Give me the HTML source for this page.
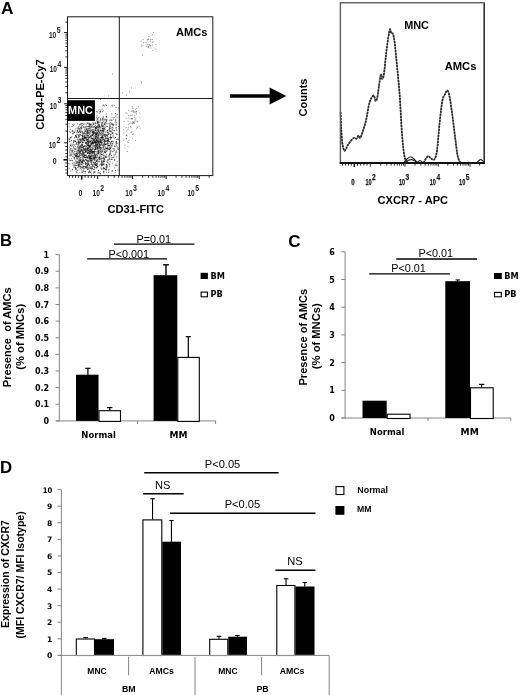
<!DOCTYPE html>
<html lang="en"><head><meta charset="utf-8"><title>Figure</title>
<style>
html,body{margin:0;padding:0;background:#fff;}
body{width:520px;height:695px;overflow:hidden;}
svg{display:block;filter:blur(0.3px);}
.ls{font-family:"Liberation Sans", Arial, sans-serif;}
.dj{font-family:"DejaVu Sans", "Liberation Sans", sans-serif;}
</style></head><body>
<svg width="520" height="695" viewBox="0 0 520 695">
<rect width="520" height="695" fill="#fff"/>
<text class="ls" x="0.9" y="13.5" font-size="17.3" font-weight="bold" text-anchor="start" fill="#000">A</text>
<path d="M75.5 144.1h1M105.4 151.0h1M74.1 151.7h1M98.5 126.2h1M75.6 171.6h1M101.5 135.7h1M112.7 124.4h1M90.6 150.9h1M81.4 167.5h1M93.3 143.3h1M87.3 148.2h1M95.7 133.6h1M106.8 138.7h1M72.8 153.8h1M72.1 151.1h1M81.5 145.2h1M103.4 164.9h1M88.1 136.1h1M90.7 140.2h1M93.4 162.2h1M99.6 157.4h1M117.3 147.8h1M101.3 143.6h1M104.9 152.6h1M105.5 144.5h1M109.1 131.3h1M93.9 158.4h1M102.4 135.6h1M114.2 146.5h1M99.5 135.7h1M95.8 141.6h1M94.5 155.2h1M78.3 156.1h1M100.0 119.0h1M105.2 125.2h1M102.5 131.8h1M94.5 132.6h1M115.9 145.2h1M95.3 129.1h1M103.8 161.7h1M94.4 133.0h1M93.7 160.1h1M90.5 140.2h1M107.1 130.4h1M92.8 123.4h1M81.7 135.6h1M107.0 146.9h1M95.2 136.5h1M112.9 157.2h1M92.0 135.3h1M102.9 105.0h1M105.6 157.6h1M86.4 143.8h1M82.8 156.2h1M101.7 120.0h1M100.8 138.7h1M83.8 156.9h1M99.9 149.5h1M102.6 141.9h1M87.5 145.2h1M97.8 130.3h1M85.6 151.5h1M73.6 124.3h1M111.6 143.9h1M85.5 168.1h1M94.3 142.0h1M111.0 137.9h1M70.3 148.7h1M107.1 132.6h1M90.3 172.1h1M79.7 129.1h1M114.2 159.7h1M71.3 136.9h1M103.5 159.3h1M82.6 159.9h1M75.9 161.4h1M108.9 130.2h1M90.2 162.7h1M90.3 168.1h1M111.4 127.2h1M110.0 137.2h1M82.3 147.1h1M87.0 165.6h1M91.9 143.5h1M85.6 124.1h1M94.4 135.8h1M108.5 155.3h1M82.7 126.8h1M96.6 128.2h1M101.7 154.6h1M81.8 155.8h1M102.4 128.7h1M105.7 169.8h1M90.6 136.5h1M81.7 144.6h1M95.1 128.6h1M80.9 162.6h1M106.7 144.2h1M95.0 143.3h1M94.7 148.7h1M87.5 167.9h1M99.2 143.1h1M89.1 145.7h1M96.8 155.4h1M94.7 141.4h1M81.9 161.6h1M78.5 167.0h1M88.4 157.0h1M83.6 146.6h1M107.2 140.8h1M90.1 156.6h1M90.3 131.4h1M86.7 166.3h1M74.9 168.7h1M73.2 132.7h1M96.8 148.7h1M111.7 151.7h1M102.2 130.1h1M79.5 134.3h1M109.5 161.7h1M106.2 148.7h1M86.7 156.5h1M78.5 169.9h1M98.6 109.8h1M68.8 158.7h1M99.7 156.0h1M104.6 133.9h1M70.1 160.5h1M88.8 146.5h1M93.8 151.1h1M94.6 155.0h1M79.9 124.1h1M96.9 137.5h1M70.5 154.3h1M103.1 164.4h1M106.8 148.6h1M97.4 146.8h1M94.9 125.4h1M81.4 164.1h1M101.6 161.1h1M87.0 132.3h1M108.3 171.0h1M98.8 113.1h1M108.1 145.8h1M83.9 153.0h1M76.4 154.4h1M89.5 149.1h1M108.0 145.7h1M72.3 133.8h1M77.5 157.1h1M90.2 152.1h1M78.5 153.6h1M90.2 127.9h1M102.1 130.8h1M80.3 146.9h1M98.7 122.9h1M98.3 148.3h1M92.5 149.3h1M95.3 134.0h1M87.4 160.6h1M80.5 130.9h1M109.3 125.1h1M103.6 129.3h1M92.0 135.1h1M77.8 153.0h1M82.1 136.6h1M84.2 149.8h1M97.4 122.2h1M81.3 164.3h1M103.0 161.4h1M98.1 153.8h1M101.6 151.8h1M97.5 150.3h1M91.6 138.7h1M99.0 159.2h1M93.7 153.8h1M75.2 136.0h1M101.0 142.4h1M98.6 145.9h1M69.3 152.9h1M71.5 151.8h1M93.9 139.6h1M94.9 142.4h1M76.6 156.3h1M85.1 151.7h1M95.6 134.8h1M97.4 147.9h1M69.7 145.2h1M85.0 131.4h1M77.8 151.4h1M90.2 148.1h1M98.2 127.9h1M91.1 163.0h1M94.7 136.0h1M89.6 146.8h1M111.0 159.5h1M82.6 160.7h1M79.0 160.8h1M116.3 142.9h1M97.4 160.1h1M114.1 160.8h1M93.3 162.4h1M91.1 152.4h1M83.7 132.6h1M104.6 141.7h1M79.8 166.8h1M85.8 160.5h1M82.6 166.5h1M78.9 152.8h1M111.4 141.0h1M94.9 145.7h1M75.4 168.2h1M91.4 129.4h1M100.5 140.4h1M87.6 141.8h1M76.7 156.0h1M109.1 145.9h1M111.2 141.7h1M94.0 151.6h1M73.4 166.8h1M100.2 128.1h1M99.7 127.1h1M88.4 150.6h1M105.3 148.4h1M74.0 154.4h1M84.6 137.8h1M82.3 166.0h1M91.4 143.5h1M92.1 141.1h1M104.5 119.7h1M69.8 129.3h1M92.0 151.3h1M78.1 141.5h1M101.9 145.5h1M89.4 164.9h1M116.6 143.6h1M86.7 152.3h1M81.4 161.5h1M93.3 140.5h1M85.2 149.3h1M73.2 142.3h1M81.9 145.1h1M79.8 157.7h1M94.9 165.2h1M91.0 158.4h1M113.5 117.5h1M96.0 167.5h1M85.2 137.6h1M85.1 167.3h1M76.0 162.9h1M92.2 156.7h1M115.9 156.9h1M96.6 143.4h1M90.1 129.3h1M87.5 152.5h1M86.9 149.0h1M109.4 128.7h1M73.9 158.0h1M81.2 135.3h1M95.0 130.5h1M98.1 140.7h1M98.9 165.7h1M93.1 157.1h1M82.7 142.6h1M96.8 159.5h1M84.2 129.5h1M80.4 142.1h1M114.6 120.9h1M97.0 141.5h1M77.7 157.2h1M87.5 159.9h1M92.9 152.3h1M96.6 121.2h1M102.0 136.5h1M88.7 171.9h1M90.5 137.4h1M78.4 128.8h1M87.5 141.0h1M87.6 167.9h1M104.4 152.0h1M95.8 158.3h1M86.4 132.3h1M92.1 130.3h1M83.5 136.5h1M81.4 138.8h1M97.9 124.5h1M96.9 164.4h1M101.0 161.8h1M102.1 118.4h1M100.0 153.0h1M108.1 139.1h1M75.2 156.2h1M111.2 146.0h1M93.6 151.2h1M69.2 160.3h1M96.8 141.3h1M108.5 129.9h1M105.8 121.0h1M86.0 157.5h1M96.2 117.3h1M69.2 155.7h1M82.3 139.3h1M111.8 145.8h1M75.3 149.5h1M88.2 172.5h1M103.9 151.5h1M101.2 165.3h1M106.8 165.9h1M106.2 172.2h1M110.6 147.4h1M71.0 155.3h1M96.6 161.2h1M85.3 143.3h1M86.2 140.5h1M96.0 128.3h1M102.8 138.0h1M106.6 126.5h1M93.4 155.9h1M105.8 135.4h1M98.3 142.6h1M95.8 134.4h1M84.0 154.7h1M96.4 132.6h1M102.6 118.7h1M85.6 128.4h1M98.3 161.6h1M102.6 151.0h1M82.5 147.2h1M96.2 160.3h1M76.0 153.6h1M86.5 157.6h1M107.2 140.8h1M75.3 129.0h1M87.8 169.0h1M96.3 136.8h1M87.4 135.7h1M103.1 157.7h1M90.3 126.2h1M105.5 119.5h1M117.1 139.2h1M106.3 167.5h1M101.3 137.1h1M90.7 153.6h1M76.9 147.6h1M109.2 147.6h1M99.2 155.1h1M95.4 161.7h1M97.1 148.3h1M96.3 154.9h1M76.1 155.5h1M106.0 116.3h1M87.6 133.9h1M102.2 136.9h1M71.1 146.1h1M78.9 130.0h1M102.6 133.1h1M101.4 164.6h1M105.1 141.4h1M89.5 158.4h1M78.3 156.7h1M94.8 156.0h1M83.7 157.3h1M80.0 134.7h1M88.3 132.7h1M76.4 134.7h1M91.6 135.1h1M90.6 161.0h1M108.3 148.9h1M90.0 161.1h1M94.8 151.7h1M95.8 139.3h1M82.7 171.7h1M97.8 129.3h1M101.4 162.5h1M100.2 137.5h1M95.8 137.9h1M87.6 143.6h1M104.5 151.1h1M72.6 152.8h1M82.9 138.6h1M90.0 145.0h1M75.0 135.5h1M115.7 143.2h1M82.1 167.7h1M104.0 141.2h1M81.3 128.8h1M102.3 133.4h1M100.4 164.0h1M104.5 119.1h1M106.0 154.3h1M82.4 132.9h1M105.4 122.2h1M108.2 143.4h1M102.6 105.7h1M85.7 155.5h1M100.8 137.6h1M73.5 162.6h1M82.3 134.4h1M117.9 108.0h1M111.2 114.1h1M75.3 156.0h1M82.2 153.3h1M99.5 164.4h1M110.1 119.9h1M93.0 124.2h1M96.2 154.2h1M86.9 149.3h1M100.3 141.8h1M85.7 159.5h1M81.5 172.5h1M78.7 134.5h1M92.8 148.6h1M96.7 127.2h1M100.3 131.1h1M84.4 152.3h1M81.5 150.3h1M81.0 155.0h1M89.6 150.2h1M88.4 155.0h1M109.7 147.1h1M78.3 146.3h1M77.3 167.5h1M93.1 173.2h1M106.0 169.9h1M79.9 139.6h1M75.7 153.5h1M90.1 141.5h1M89.9 168.7h1M92.1 160.0h1M87.7 150.6h1M102.4 130.6h1M78.4 149.8h1M111.7 132.7h1M82.2 150.6h1M87.3 131.7h1M92.5 139.7h1M70.5 137.4h1M111.5 124.0h1M103.9 128.5h1M92.4 146.1h1M92.4 132.0h1M89.8 141.3h1M111.6 159.5h1M81.9 139.3h1M88.4 149.5h1M86.4 129.3h1M83.0 146.4h1M99.1 150.7h1M98.6 157.4h1M83.8 146.4h1M97.7 122.2h1M102.0 111.7h1M98.1 142.0h1M90.2 160.6h1M114.1 159.8h1M90.3 155.1h1M86.8 145.1h1M93.9 131.6h1M89.8 157.1h1M96.2 134.0h1M78.2 132.1h1M105.5 157.1h1M93.5 131.8h1M109.9 152.2h1M88.8 123.6h1M76.6 142.6h1M88.0 148.0h1M83.1 156.2h1M101.4 136.5h1M92.4 158.3h1M88.9 126.4h1M103.2 110.7h1M95.5 145.4h1M70.2 145.1h1M68.7 126.9h1M83.5 148.2h1M73.8 158.9h1M79.4 130.6h1M95.4 164.6h1M85.4 166.0h1M100.0 147.0h1M93.5 155.4h1M84.3 155.6h1M70.4 141.2h1M97.4 173.0h1M93.4 126.6h1M95.2 123.8h1M88.4 146.9h1M74.5 165.5h1M95.3 136.6h1M107.7 139.8h1M78.6 142.4h1M76.7 158.6h1M94.6 157.1h1M99.1 132.8h1M103.3 139.3h1M80.1 163.0h1M90.3 124.5h1M113.3 124.3h1M96.9 133.6h1M103.1 121.8h1M103.6 168.3h1M104.9 136.3h1M85.8 138.9h1M95.9 145.9h1M69.2 150.1h1M99.5 144.9h1M70.6 144.0h1M101.7 140.5h1M97.7 150.3h1M83.1 139.7h1M87.2 144.2h1M93.8 172.3h1M93.3 133.2h1M82.5 152.4h1M84.0 136.8h1M110.4 143.9h1M105.3 138.4h1M89.2 151.3h1M80.5 127.8h1M103.9 159.5h1M103.4 155.1h1M71.7 131.5h1M74.7 130.9h1M94.7 130.4h1M98.9 125.2h1M96.7 135.2h1M95.4 127.1h1M86.7 130.6h1M112.3 141.8h1M97.9 152.9h1M88.1 142.7h1M87.4 161.8h1M91.6 142.9h1M96.4 133.2h1M89.7 159.3h1M87.0 140.0h1M103.8 149.0h1M94.1 171.8h1M94.3 147.3h1M86.2 132.9h1M116.2 122.7h1M81.4 123.5h1M87.5 147.8h1M84.2 140.5h1M99.5 141.7h1M89.2 149.1h1M86.6 131.4h1M85.0 150.3h1M89.2 159.1h1M88.9 170.9h1M97.5 135.7h1M80.9 139.7h1M98.4 153.1h1M88.8 132.2h1M92.8 141.1h1M110.8 137.5h1M69.5 163.9h1M103.2 145.2h1M96.3 120.2h1M98.7 153.1h1M88.1 152.3h1M79.9 141.9h1M104.3 136.8h1M84.5 130.9h1M90.5 136.9h1M79.5 138.5h1M102.0 122.3h1M92.4 138.6h1M84.3 133.5h1M102.4 125.6h1M86.8 167.3h1M91.1 149.6h1M82.0 138.7h1M104.7 136.2h1M106.9 135.6h1M79.0 158.9h1M87.3 136.0h1M104.3 140.6h1M105.6 155.9h1M97.9 127.4h1M80.5 132.6h1M113.7 150.4h1M78.9 165.9h1M80.1 140.0h1M101.6 154.6h1M95.2 147.7h1M102.6 128.5h1M87.4 132.6h1M99.6 145.4h1M95.4 134.0h1M87.8 158.0h1M108.9 141.5h1M84.2 140.5h1M72.4 150.1h1M74.0 157.6h1M68.4 163.7h1M103.9 145.8h1M83.7 124.0h1M85.1 171.5h1M116.5 146.6h1M102.1 124.0h1M74.6 149.3h1M84.4 138.1h1M91.9 166.4h1M92.8 133.3h1M88.2 137.8h1M85.0 148.5h1M96.7 142.4h1M108.9 126.2h1M103.2 131.3h1M94.1 164.2h1M106.1 114.1h1M95.1 149.2h1M91.6 126.5h1M95.9 160.8h1M89.8 158.8h1M89.4 161.0h1M80.5 124.9h1M105.9 168.3h1M79.1 156.4h1M87.0 169.5h1M103.8 168.8h1M101.3 132.2h1M87.3 157.7h1M92.9 143.3h1M99.1 145.8h1M86.6 163.3h1M82.8 160.6h1M112.3 132.9h1M94.9 142.0h1M98.8 144.6h1M90.5 143.0h1M77.0 154.9h1M83.9 138.0h1M100.0 173.9h1M89.2 130.7h1M75.0 169.3h1M105.3 144.5h1M86.2 167.0h1M94.4 154.2h1M94.9 138.2h1M101.4 148.7h1M85.2 147.2h1M90.8 143.4h1M85.1 151.5h1M84.4 157.3h1M94.2 126.7h1M85.0 138.3h1M96.7 142.9h1M101.1 152.5h1M99.6 139.1h1M100.0 112.2h1M78.1 147.9h1M96.8 160.3h1M108.0 134.5h1M81.6 167.9h1M90.7 156.5h1M100.1 142.2h1M95.9 140.6h1M77.7 128.3h1M86.0 129.1h1M101.3 142.9h1M93.9 146.1h1M97.8 170.5h1M72.4 133.5h1M102.8 168.1h1M98.2 145.1h1M105.0 147.8h1M89.2 158.8h1M94.5 147.3h1M83.4 153.7h1M82.1 138.3h1M79.3 131.6h1M85.4 137.1h1M101.8 151.6h1M102.1 135.1h1M91.5 157.5h1M91.3 166.9h1M88.4 156.3h1M97.9 138.8h1M83.6 134.0h1M107.9 140.7h1M82.2 140.2h1M99.8 111.3h1M82.3 123.6h1M94.6 128.7h1M89.7 156.5h1M103.3 147.8h1M97.2 130.5h1M99.6 144.6h1M83.3 160.3h1M86.2 156.5h1M103.8 161.2h1M74.5 151.2h1M111.4 120.3h1M86.5 164.3h1M84.9 162.7h1M84.7 140.0h1M77.8 162.4h1M88.6 147.3h1M81.8 161.5h1M76.9 162.2h1M99.0 148.1h1M91.1 160.5h1M69.8 132.6h1M82.2 147.9h1M102.5 163.4h1M115.5 151.8h1M96.8 163.6h1M96.9 145.0h1M106.6 161.2h1M76.0 144.3h1M97.9 152.6h1M88.4 123.6h1M107.4 132.7h1M95.6 163.7h1M106.2 164.7h1M94.2 154.5h1M87.9 141.4h1M104.1 139.4h1M108.9 165.1h1M98.3 137.3h1M71.9 130.5h1M97.1 122.3h1M107.5 160.6h1M98.5 121.1h1M89.8 145.3h1M85.7 135.5h1M84.5 157.6h1M75.4 165.6h1M95.0 137.4h1M86.8 164.7h1M96.6 138.9h1M109.3 149.7h1M86.4 138.9h1M112.7 141.5h1M90.9 161.8h1M86.9 131.6h1M103.6 124.5h1M69.7 137.8h1M79.5 139.4h1M80.0 127.9h1M93.7 124.0h1M85.4 164.0h1M104.2 149.4h1M91.2 168.6h1M87.3 145.3h1M82.4 142.0h1M86.5 122.9h1M87.2 158.1h1M85.9 142.9h1M100.1 151.6h1M81.2 141.6h1M103.3 172.1h1M77.7 160.9h1M115.3 119.4h1M102.9 134.9h1M76.8 131.2h1M86.0 160.8h1M110.9 137.7h1M79.4 146.2h1M80.5 145.8h1M83.2 168.1h1M105.5 143.3h1M101.3 164.6h1M105.7 135.0h1M75.9 136.2h1M95.3 129.8h1M100.4 130.9h1M91.7 153.0h1M101.7 122.8h1M76.1 169.1h1M103.1 130.4h1M104.4 140.5h1M75.7 154.8h1M110.2 122.5h1M86.9 128.7h1M104.4 127.7h1M96.0 139.8h1M80.8 150.0h1M93.7 157.8h1M88.1 144.2h1M95.0 127.5h1M78.0 156.2h1M95.7 151.3h1M96.6 152.5h1M108.2 145.5h1M76.5 137.4h1M114.8 172.2h1M90.3 145.2h1M106.2 117.3h1M89.9 172.5h1M101.2 126.7h1M98.4 142.9h1M105.4 137.6h1M101.2 137.5h1M115.1 116.1h1M84.6 131.1h1M108.5 148.8h1M83.0 139.8h1M91.3 158.9h1M82.4 135.6h1M79.4 147.0h1M78.6 141.8h1M116.4 130.1h1M107.3 134.4h1M79.0 154.3h1M93.1 138.3h1M83.9 137.8h1M82.3 147.3h1M91.9 165.1h1M105.8 141.5h1M93.6 146.0h1M79.9 132.5h1M84.2 137.8h1M78.1 163.6h1M85.7 129.9h1M69.5 154.6h1M97.6 142.2h1M91.9 132.9h1M96.0 161.6h1M100.7 156.6h1M87.5 122.9h1M97.9 157.3h1M96.6 167.8h1M113.5 130.6h1M110.0 134.5h1M90.2 149.2h1M112.7 151.7h1M90.7 147.2h1M90.8 163.4h1M96.6 148.1h1M94.9 162.7h1M92.1 162.0h1M78.3 143.8h1M100.7 133.9h1M91.5 152.5h1M111.1 120.2h1M83.5 166.2h1M97.1 139.3h1M95.4 128.5h1M111.6 117.4h1M88.6 146.2h1M80.0 142.4h1M71.4 150.3h1M74.1 132.1h1M109.5 124.8h1M101.0 124.7h1M95.7 130.5h1M98.5 131.2h1M78.3 160.4h1M78.5 135.6h1M99.0 157.2h1M78.6 159.0h1M103.9 144.7h1M88.8 158.2h1M82.7 154.2h1M115.2 127.9h1M76.6 131.8h1M74.9 141.0h1M104.6 152.5h1M82.2 147.5h1M92.1 153.6h1M112.4 135.1h1M76.4 158.7h1M88.1 138.8h1M113.9 148.9h1M94.1 152.5h1M94.0 156.8h1M97.2 125.3h1M86.7 152.7h1M93.7 167.3h1M116.7 161.7h1M87.2 161.8h1M112.5 148.6h1M90.5 159.2h1M92.0 142.7h1M82.0 151.5h1M89.2 134.6h1M102.5 129.3h1M90.4 133.0h1M89.2 127.3h1M97.6 151.5h1M108.9 166.7h1M78.9 162.5h1M90.3 166.7h1M93.7 158.2h1M76.6 128.0h1M93.5 127.6h1M77.0 130.5h1M107.0 148.9h1M80.6 155.1h1M116.7 114.6h1M89.1 152.1h1M97.1 149.1h1M85.8 151.0h1M103.6 144.0h1M95.3 149.4h1M89.5 152.0h1M109.3 137.5h1M112.4 143.4h1M106.5 165.0h1M86.6 148.3h1M83.5 150.0h1M79.6 151.8h1M83.0 148.3h1M88.1 163.5h1M86.6 146.8h1M74.8 148.7h1M109.1 145.2h1M99.5 133.6h1M81.2 126.7h1M111.9 170.8h1M107.5 139.6h1M74.7 164.0h1M77.9 164.5h1M97.2 147.5h1M98.4 142.7h1M115.0 170.4h1M95.4 144.5h1M101.9 165.5h1M74.4 153.3h1M97.1 144.7h1M98.9 158.8h1M85.6 134.6h1M115.0 137.4h1M90.6 124.5h1M80.0 151.6h1M85.2 163.9h1M95.5 136.7h1M91.7 127.2h1M94.5 159.9h1M90.9 126.2h1M95.9 134.0h1M88.2 133.0h1M89.0 171.2h1M96.2 164.8h1M112.2 127.5h1M92.3 134.4h1M83.3 137.0h1M86.5 141.6h1M97.8 172.4h1M79.4 124.4h1M83.9 138.8h1M73.5 165.8h1M107.8 140.2h1M88.4 142.8h1M98.5 149.0h1M99.6 111.5h1M105.4 122.2h1M100.3 147.5h1M105.4 123.8h1M108.1 159.7h1M106.1 148.0h1M87.3 141.2h1M99.8 139.4h1M89.5 142.3h1M89.0 137.0h1M103.8 128.9h1M75.1 155.7h1M93.3 165.8h1M97.3 146.9h1M92.9 139.3h1M106.2 151.3h1M98.5 131.8h1M81.8 154.4h1M74.2 145.0h1M100.6 159.0h1M103.8 106.0h1M95.0 145.7h1M93.1 162.4h1M99.6 140.9h1M102.3 119.5h1M92.6 142.6h1M96.6 115.8h1M72.4 151.0h1M83.6 145.9h1M103.4 141.7h1M102.1 140.1h1M82.5 159.2h1M73.4 146.9h1M86.8 133.2h1M105.3 157.1h1M77.4 139.5h1M80.2 145.4h1M100.4 150.0h1M116.3 152.4h1M97.9 151.1h1M90.0 136.7h1M90.4 158.3h1M85.2 152.6h1M102.4 147.7h1M108.9 127.2h1M82.1 131.3h1M78.9 150.8h1M107.8 141.7h1M89.9 125.1h1M81.8 162.2h1M105.4 132.2h1M72.8 148.3h1M102.8 145.7h1M86.7 144.9h1M95.0 156.7h1M103.5 169.0h1M77.8 150.1h1M76.5 148.8h1M79.6 149.5h1M95.1 134.4h1M104.3 168.5h1M94.7 155.1h1M96.5 157.7h1M108.0 139.0h1M78.8 125.1h1M109.7 151.2h1M110.4 131.6h1M100.0 154.2h1M100.1 120.5h1M87.0 153.3h1M91.3 151.8h1M107.6 162.8h1M81.9 163.3h1M82.6 138.2h1M99.9 142.5h1M94.8 156.7h1M78.7 172.9h1M86.4 166.1h1M87.7 135.1h1M99.5 122.0h1M101.5 150.8h1M109.9 148.2h1M114.6 146.8h1M86.5 135.8h1M76.5 152.7h1M77.1 154.0h1M91.7 158.6h1M97.6 123.9h1M92.7 131.2h1M96.0 142.7h1M81.9 132.7h1M110.3 148.7h1M80.2 140.4h1M93.4 127.0h1M98.7 146.4h1M73.3 140.6h1M93.3 166.6h1M100.4 151.0h1M83.4 150.1h1M92.5 151.5h1M102.0 126.5h1M90.3 160.8h1M94.1 169.2h1M87.9 164.6h1M86.2 144.3h1M95.5 148.7h1M101.6 137.9h1M87.0 163.9h1M101.9 130.9h1M72.0 163.3h1M76.0 136.5h1M84.2 168.8h1M112.4 133.3h1M95.1 141.2h1M89.5 146.1h1M104.1 135.6h1M85.7 146.1h1M117.3 148.7h1M74.1 148.8h1M100.4 134.2h1M96.9 112.2h1M78.1 150.5h1M69.3 131.4h1M88.2 164.4h1M82.4 135.3h1M80.8 144.7h1M82.1 160.5h1M77.3 144.6h1M102.8 155.7h1M71.5 126.5h1M115.4 144.2h1M75.6 136.0h1M91.4 160.0h1M80.8 169.3h1M74.0 141.2h1M80.4 127.2h1M105.9 140.6h1M93.1 158.4h1M84.8 155.5h1M101.8 109.0h1M108.6 133.7h1M103.1 171.5h1M78.0 135.7h1M91.6 167.8h1M76.3 157.8h1M99.3 144.8h1M94.3 159.8h1M89.3 125.6h1M76.5 153.4h1M101.4 123.5h1M107.6 157.1h1M85.4 143.3h1M80.2 160.4h1M78.3 127.3h1M102.2 137.0h1M84.6 171.5h1M98.2 158.6h1M90.1 131.1h1M89.1 147.6h1M78.1 132.5h1M98.9 132.8h1M113.9 167.9h1M92.0 135.7h1M96.2 140.2h1M98.0 170.4h1M90.6 127.3h1M90.9 150.0h1M103.2 172.8h1M97.1 119.7h1M88.2 161.2h1M98.8 152.2h1M80.4 146.7h1M68.9 141.2h1M75.3 160.0h1M101.6 144.5h1M95.2 122.6h1M112.4 106.2h1M84.1 133.1h1M69.0 139.0h1M109.5 154.0h1M98.0 130.8h1M89.5 157.7h1M112.3 163.2h1M93.9 130.0h1M111.9 133.4h1M115.9 127.7h1M74.8 156.3h1M95.4 142.3h1M70.3 171.0h1M97.8 141.6h1M112.7 137.3h1M96.8 133.0h1M81.6 170.8h1M85.3 131.1h1M87.8 126.5h1M84.1 135.8h1M92.1 132.3h1M91.8 143.1h1M85.3 127.2h1M91.2 138.2h1M100.6 159.1h1M80.4 150.1h1M109.2 159.6h1M77.8 166.6h1M86.4 165.6h1M80.5 140.5h1M76.8 150.4h1M75.6 153.9h1M92.5 142.4h1M90.9 142.3h1M97.4 166.6h1M90.1 136.0h1M109.4 164.5h1M83.6 171.3h1M91.5 164.3h1M78.3 137.0h1M114.2 155.9h1M101.1 138.0h1M108.6 145.4h1M80.4 150.3h1M102.5 158.4h1M97.3 145.0h1M94.2 145.5h1M100.0 130.8h1M87.8 153.2h1M71.0 140.4h1M77.1 161.8h1M99.0 127.9h1M108.4 156.2h1M95.0 127.6h1M80.2 153.1h1M75.2 161.3h1M101.5 142.2h1M86.8 156.9h1M112.5 128.3h1M86.2 150.3h1M85.1 157.5h1M100.5 168.1h1M92.2 151.6h1M115.6 133.6h1M97.8 136.0h1M99.9 142.1h1M87.5 135.7h1M96.1 154.2h1M79.7 166.3h1M95.7 147.0h1M79.8 155.4h1M96.6 156.1h1M90.1 156.8h1M92.7 132.5h1M109.6 153.7h1M99.9 139.7h1M92.9 132.2h1M103.7 164.2h1M111.9 143.9h1M82.8 160.1h1M88.8 165.7h1M106.6 135.3h1M79.6 135.7h1M95.1 144.0h1M104.9 144.4h1M88.3 138.8h1M98.7 126.7h1M69.0 151.9h1M82.8 153.2h1M100.0 119.3h1M115.8 124.3h1M100.6 141.5h1M75.7 168.9h1M93.5 172.0h1M115.9 130.0h1M96.8 136.9h1M95.2 144.3h1M101.5 154.8h1M95.6 142.4h1M102.4 161.7h1M95.2 147.5h1M100.4 135.0h1M94.4 137.9h1M97.9 122.0h1M96.0 136.2h1M79.2 152.9h1M102.3 126.1h1M78.6 150.3h1M88.2 146.2h1M85.4 154.9h1M91.1 144.3h1M105.7 156.7h1M78.9 136.5h1M98.7 147.5h1M76.2 132.8h1M77.3 131.2h1M95.3 147.8h1M89.6 133.2h1M97.3 129.5h1M105.9 164.8h1M80.1 131.9h1M117.8 139.5h1M100.5 130.6h1M85.4 151.1h1M92.9 151.6h1M84.5 157.6h1M83.9 127.9h1M97.3 127.9h1M91.0 130.6h1M89.0 156.8h1M97.2 153.6h1M80.5 154.2h1M92.6 145.8h1M104.0 142.7h1M88.8 151.4h1M89.9 158.3h1M70.5 148.5h1M111.6 171.2h1M81.6 141.8h1M82.7 139.8h1M91.2 164.6h1M88.9 155.5h1M97.4 122.7h1M93.9 141.7h1M84.6 142.5h1M89.9 167.9h1M97.7 141.8h1M106.6 138.1h1M101.2 166.0h1M87.4 141.4h1M90.1 149.4h1M92.4 141.9h1M94.6 140.2h1M85.1 149.5h1M72.0 169.8h1M88.2 140.1h1M81.6 172.1h1M104.8 156.6h1M68.6 168.3h1M81.8 162.4h1M107.3 140.8h1M90.5 124.1h1M75.9 151.3h1M98.7 141.1h1M76.0 165.7h1M115.9 141.5h1M88.3 129.3h1M78.5 147.8h1M79.4 147.3h1M96.2 144.9h1M87.6 143.2h1M88.6 155.4h1M100.4 129.9h1M73.6 167.5h1M81.4 144.0h1M72.9 125.4h1M92.5 143.4h1M103.7 155.4h1M96.9 138.1h1M109.3 158.9h1M110.6 131.4h1M95.3 127.7h1M88.6 150.2h1M103.2 149.0h1M106.5 119.7h1M94.9 142.4h1M83.2 163.5h1M111.4 158.0h1M93.1 140.9h1M79.9 160.4h1M97.0 121.8h1M109.8 148.6h1M82.7 124.5h1M111.7 157.6h1M107.5 137.0h1M102.8 127.2h1M117.7 149.5h1M92.1 125.1h1M88.6 137.7h1M91.1 174.1h1M84.7 133.2h1M84.8 173.0h1M85.4 145.8h1M98.8 138.6h1M99.3 161.2h1M84.1 160.4h1M86.3 139.9h1M110.2 144.9h1M106.5 123.7h1M76.8 163.1h1M94.3 167.8h1M117.5 170.0h1M75.7 137.0h1M82.2 136.5h1M79.0 131.6h1M84.4 135.7h1M105.8 166.7h1M77.4 134.3h1M91.9 131.7h1M111.5 123.5h1M102.1 150.0h1M87.1 141.6h1M104.1 124.5h1M96.4 149.2h1M96.2 111.5h1M82.8 133.5h1M95.3 132.1h1M82.3 142.4h1M91.6 150.2h1M76.4 172.8h1M87.9 137.5h1M96.0 140.4h1M96.8 166.4h1M106.8 140.5h1M82.4 156.9h1M105.8 138.7h1M103.9 158.8h1M109.2 120.2h1M106.5 130.9h1M96.9 140.6h1M85.3 142.6h1M109.7 142.5h1M93.0 169.5h1M68.9 147.1h1M88.2 155.5h1M78.3 152.8h1M70.8 154.0h1M85.4 167.6h1M98.3 139.3h1M99.6 141.2h1M103.2 146.7h1M78.0 142.7h1M82.0 153.9h1M94.2 160.0h1M105.8 167.0h1M109.0 141.4h1M115.4 121.0h1M101.7 138.0h1M94.1 167.4h1M85.1 162.6h1M83.0 149.8h1M81.9 145.6h1M89.1 153.7h1M97.8 136.2h1M74.6 155.0h1M98.7 158.1h1M105.7 116.5h1M100.4 145.3h1M100.5 148.1h1M97.9 137.7h1M104.9 152.7h1M100.8 132.7h1M78.2 142.5h1M79.3 146.1h1M72.3 144.1h1M89.1 161.0h1M85.1 151.6h1M104.8 138.1h1M89.8 143.3h1M104.5 134.4h1M116.1 150.9h1M103.6 140.3h1M84.1 137.6h1M103.7 126.2h1M99.0 157.9h1M94.8 138.3h1M114.9 137.4h1M93.4 152.3h1M96.4 131.5h1M94.6 172.1h1M87.2 130.1h1M82.6 133.7h1M94.8 157.6h1M99.7 147.9h1M101.0 144.3h1M94.3 153.3h1M87.3 130.4h1M102.8 164.3h1M100.2 110.1h1M102.7 158.0h1M102.5 139.0h1M88.3 130.4h1M109.0 149.4h1M94.2 151.2h1M86.8 137.4h1M96.0 142.9h1M77.5 138.9h1M77.9 137.1h1M91.4 143.2h1M86.4 160.7h1M78.9 148.5h1M91.4 140.8h1M88.7 133.6h1M94.5 142.7h1M89.3 146.3h1M101.2 154.4h1M76.5 143.0h1M98.2 143.2h1M95.8 165.5h1M79.6 148.6h1M92.1 165.5h1M109.1 158.0h1M85.1 164.1h1M74.6 155.0h1M94.8 149.5h1M92.2 168.8h1M106.6 136.5h1M68.7 123.7h1M100.9 125.4h1M105.9 120.6h1M70.0 149.9h1M101.6 143.0h1M93.8 158.6h1M110.5 128.6h1M91.4 151.9h1M107.2 150.1h1M107.1 138.1h1M88.7 140.3h1M115.7 165.3h1M102.4 130.7h1M101.4 134.1h1M79.1 139.4h1M75.3 141.5h1M113.2 157.5h1M93.4 133.4h1M73.2 144.9h1M82.2 158.0h1M103.7 143.7h1M97.8 143.6h1M97.5 118.7h1M94.1 149.5h1M92.8 133.5h1M91.5 138.5h1M88.8 165.1h1M81.3 149.5h1M72.4 154.9h1M83.3 127.2h1M113.7 105.4h1M94.3 133.9h1M115.1 154.3h1M106.5 167.2h1M87.2 149.9h1M94.1 149.6h1M112.3 130.7h1M106.7 143.2h1M83.0 170.1h1M87.5 162.0h1M88.8 151.6h1M109.5 157.0h1M96.9 162.1h1M96.1 127.6h1M84.8 166.7h1M92.9 144.9h1M83.9 140.7h1M93.4 134.1h1M74.0 137.8h1M109.3 154.4h1M75.0 167.3h1M82.5 158.6h1M89.2 141.3h1M89.7 151.3h1M82.9 168.0h1M89.8 145.9h1M77.5 165.2h1M104.1 160.1h1M91.1 145.0h1M101.2 163.8h1M110.0 143.4h1M106.0 165.1h1M107.0 143.2h1M102.8 153.2h1M104.0 141.9h1M83.5 140.1h1M89.8 153.5h1M87.4 131.7h1M104.9 127.0h1M70.5 137.8h1M97.6 125.4h1M92.3 143.1h1M88.0 128.6h1M81.5 150.7h1M87.2 148.6h1M85.5 136.7h1M101.3 169.5h1M86.5 168.6h1M106.8 162.3h1M98.7 141.3h1M115.3 141.9h1M101.6 125.7h1M78.9 165.2h1M115.6 107.5h1M81.3 149.6h1M105.2 144.5h1M110.2 130.8h1M91.4 134.6h1M86.0 126.2h1M83.5 126.1h1M115.3 163.9h1M107.1 130.4h1M97.5 141.1h1M98.7 147.0h1M88.6 166.6h1M116.0 139.6h1M118.1 126.4h1M98.6 161.8h1M89.0 145.5h1M90.8 150.7h1M89.1 154.1h1M88.2 172.2h1M80.9 124.0h1M79.7 157.3h1M81.3 150.9h1M78.4 126.5h1M86.1 139.6h1M87.9 150.2h1M94.2 140.9h1M77.7 164.6h1M102.9 147.0h1M93.0 134.1h1M94.0 142.3h1M77.9 149.0h1M85.8 149.2h1M110.2 137.1h1M95.1 149.0h1M89.1 158.2h1M90.6 158.6h1M111.6 105.1h1M87.8 148.5h1M71.9 124.6h1M102.3 137.7h1M88.6 141.4h1M86.4 138.7h1M74.9 141.1h1M88.7 153.1h1M87.5 148.4h1M69.1 141.2h1M92.5 129.4h1M92.3 147.3h1M76.2 156.9h1M88.7 157.9h1M96.9 126.8h1M88.6 126.3h1M109.6 127.9h1M88.3 144.3h1M114.9 113.5h1M108.3 169.4h1M102.5 120.0h1M100.6 147.8h1M99.0 144.0h1M113.1 125.6h1M79.9 160.7h1M106.6 126.6h1M96.7 138.1h1M75.9 163.4h1M99.9 173.3h1M99.5 133.4h1M101.7 128.4h1M104.9 169.4h1M95.2 156.0h1M89.4 142.0h1M93.4 164.3h1M103.1 144.3h1M114.3 145.6h1M114.7 165.3h1M89.5 124.0h1M110.7 131.5h1M107.3 147.8h1M102.7 126.2h1M105.8 135.1h1M104.3 134.5h1M101.2 168.3h1M101.0 158.2h1M87.8 145.1h1M96.3 165.7h1M85.7 142.6h1M87.3 145.7h1M96.0 140.4h1M85.5 143.6h1M100.6 163.8h1M103.5 158.6h1M97.8 133.3h1M101.6 162.0h1M80.4 167.6h1M100.6 140.5h1M68.3 138.9h1M108.9 149.3h1M91.8 141.0h1M79.1 155.5h1M100.3 148.6h1M92.7 143.0h1M116.1 134.4h1M97.4 151.5h1M109.6 139.4h1M92.4 123.1h1M111.0 155.5h1M88.5 124.8h1M82.9 154.6h1M85.0 159.2h1M94.9 142.2h1M84.3 155.9h1M110.9 124.3h1M106.2 120.8h1M90.2 131.0h1M115.1 152.8h1M79.2 164.5h1M86.1 133.1h1M82.8 153.7h1M90.2 158.0h1M104.7 140.0h1M76.4 155.8h1M78.5 162.4h1M84.5 166.9h1M82.6 152.4h1M102.4 130.9h1M116.7 165.7h1M87.3 126.4h1M77.2 151.9h1M102.4 117.1h1M100.3 137.8h1M90.4 135.5h1M93.9 139.2h1M83.8 149.6h1M80.6 166.4h1M81.1 162.2h1M83.4 157.2h1M71.9 145.6h1M96.7 118.6h1M79.3 163.2h1M93.3 159.2h1M82.0 136.0h1M89.9 172.7h1M105.3 105.0h1M107.7 144.1h1M110.8 141.8h1M87.7 142.4h1M110.0 138.9h1M88.3 169.3h1M95.0 162.5h1M91.1 168.7h1M80.7 164.5h1M83.4 166.6h1M109.1 128.3h1M87.9 163.8h1M107.2 145.6h1M100.1 126.8h1M86.9 139.6h1M98.4 151.0h1M90.1 156.3h1M114.7 122.8h1M104.4 152.6h1M82.3 162.5h1M98.5 131.1h1M104.7 129.2h1M75.1 146.6h1M96.8 166.3h1M83.3 155.9h1M110.7 134.3h1M80.9 147.8h1M97.3 134.5h1M78.9 142.8h1M83.4 156.0h1M80.9 161.7h1M98.9 172.8h1M80.3 153.3h1M73.1 141.2h1M79.3 143.0h1M77.5 159.2h1M75.5 156.6h1M113.2 148.9h1M96.4 144.3h1M96.5 156.9h1M100.3 142.0h1M100.1 142.7h1M96.5 144.4h1M85.8 130.0h1M111.1 145.7h1M103.0 160.6h1M109.1 154.7h1M92.8 129.9h1M85.5 146.7h1M105.8 151.1h1M96.8 126.5h1M95.7 157.4h1M87.0 151.1h1M92.5 135.3h1M71.4 152.2h1M72.7 165.2h1M104.2 143.3h1M106.9 142.6h1M83.6 148.8h1M108.7 129.6h1M94.9 142.6h1M106.6 131.8h1M95.5 132.9h1M93.6 163.4h1M104.3 122.9h1M110.8 141.9h1M76.2 143.2h1M94.3 157.6h1M93.2 153.3h1M103.1 128.9h1M98.9 124.8h1M69.3 139.5h1M105.9 148.5h1M93.8 164.6h1M86.4 142.4h1M87.5 160.5h1M79.5 151.7h1M74.0 132.7h1M107.5 141.2h1M84.4 148.7h1M90.8 158.8h1M83.6 141.1h1M80.3 159.1h1M86.3 163.4h1M95.6 165.5h1M104.4 131.0h1M91.8 132.2h1M106.6 148.3h1M91.4 155.7h1M87.4 153.2h1M93.3 137.2h1M104.6 146.2h1M113.9 138.2h1M89.9 150.9h1M92.5 152.0h1M93.1 157.7h1M78.9 161.6h1M94.0 139.8h1M98.3 125.8h1M79.7 159.6h1M80.6 165.0h1M83.5 161.6h1M101.1 160.7h1M102.9 168.2h1M85.7 167.1h1M92.1 138.3h1M86.6 158.0h1M79.0 162.9h1M80.8 159.8h1M92.8 131.8h1M87.1 134.3h1M78.5 143.9h1M76.7 170.4h1M78.1 143.9h1M85.2 159.4h1M98.7 159.3h1M76.7 157.0h1M90.7 144.5h1M89.3 128.2h1M99.0 146.9h1M94.8 158.2h1M102.3 137.5h1M110.7 150.4h1M103.4 171.0h1M99.0 126.6h1M102.9 134.2h1M87.1 123.6h1M98.6 134.5h1M108.6 133.9h1M73.7 164.2h1M89.0 167.9h1M98.0 151.9h1M87.5 127.0h1M90.2 151.1h1M106.2 148.7h1M98.3 117.5h1M82.2 152.6h1M77.1 146.4h1M81.4 131.3h1M98.1 134.3h1M94.3 142.8h1M70.2 155.9h1M76.6 165.2h1M77.0 123.9h1M88.5 156.3h1M91.1 155.8h1M82.1 138.0h1M85.5 134.2h1M99.3 130.0h1M112.0 124.5h1M79.1 128.7h1M107.3 159.7h1M108.2 172.5h1M104.6 149.9h1M87.7 150.5h1M84.1 137.0h1M90.8 147.7h1M92.1 152.5h1M78.2 140.7h1M102.4 162.8h1M104.0 123.3h1M93.7 122.8h1M81.8 144.5h1M86.2 137.5h1M72.4 156.5h1M97.1 147.1h1M81.7 125.5h1M71.3 150.6h1M89.3 153.2h1M100.0 140.7h1M89.2 136.9h1M90.5 138.5h1M108.2 138.5h1M92.4 155.6h1M110.1 126.5h1M98.5 140.0h1M80.7 148.1h1M95.5 164.2h1M79.1 151.7h1M116.7 134.3h1M72.6 131.3h1M103.3 132.2h1M84.4 150.3h1M70.9 158.8h1M79.6 160.4h1M101.1 122.8h1M72.9 142.2h1M102.9 139.6h1M109.4 123.3h1M81.0 147.1h1M95.2 164.8h1M88.6 130.9h1M96.8 144.7h1M104.2 157.1h1M107.7 149.4h1M89.4 153.7h1M74.9 141.6h1M75.5 137.3h1M81.1 128.8h1M96.1 126.5h1M77.2 141.0h1M101.5 139.4h1M90.3 156.2h1M75.0 167.5h1M81.7 137.9h1M92.1 149.7h1M81.5 146.2h1M71.5 160.7h1M102.3 158.4h1M90.0 152.8h1M80.3 161.7h1M78.1 150.8h1M95.9 135.1h1M96.5 163.9h1M110.1 135.8h1M101.5 164.5h1M106.1 105.5h1M98.7 126.4h1M84.1 145.6h1M91.1 135.7h1M93.9 141.3h1M79.8 168.5h1M78.8 141.0h1M109.5 152.0h1M70.1 145.8h1M91.3 160.3h1M111.8 129.5h1M91.8 168.4h1M108.5 123.4h1M102.9 116.9h1M78.2 165.9h1M103.5 135.9h1M91.3 154.1h1M105.5 138.4h1M103.4 161.6h1M92.7 139.1h1M105.5 169.6h1M89.2 157.4h1M92.0 148.3h1M97.6 131.8h1M95.5 146.3h1M103.7 120.2h1M92.8 158.8h1M115.5 125.0h1M86.8 150.2h1M90.8 170.2h1M103.2 167.4h1M77.7 145.4h1M76.5 172.1h1M101.0 154.2h1M110.0 137.3h1M71.8 160.7h1M92.5 155.9h1M84.8 163.2h1M94.3 132.5h1M77.7 129.3h1M80.8 153.6h1M114.3 130.3h1M93.1 151.5h1M89.1 128.7h1M92.7 143.1h1M87.9 145.5h1M110.1 137.3h1M78.6 162.0h1M107.7 132.9h1M80.6 151.0h1M93.3 136.2h1M79.2 147.7h1M74.6 163.1h1M89.0 124.5h1M97.2 123.4h1M115.9 142.4h1M85.3 137.7h1M87.0 153.5h1M94.7 138.7h1M84.2 161.3h1M113.6 154.6h1M79.9 152.1h1M90.1 141.6h1M113.0 119.1h1M91.5 144.1h1M105.1 144.6h1M94.3 163.3h1M97.4 145.9h1M72.8 147.0h1M81.3 127.7h1M96.8 141.6h1M112.4 125.7h1M86.2 148.9h1M94.7 164.6h1M95.9 167.9h1M84.4 152.0h1M95.5 139.8h1M81.8 143.0h1M96.1 146.4h1M92.4 154.2h1M116.4 117.1h1M95.4 123.3h1M80.3 157.5h1M87.6 139.8h1M87.6 162.1h1M71.9 169.3h1M104.6 134.8h1M85.5 155.2h1M89.8 145.8h1M86.9 147.9h1M102.4 128.3h1M82.9 151.1h1M81.9 155.7h1M90.7 151.5h1M100.0 159.0h1M97.2 132.5h1M87.8 152.4h1M100.1 150.0h1M87.6 143.7h1M95.3 135.6h1M73.5 157.6h1M97.9 135.4h1M84.1 155.5h1M112.5 136.3h1M108.6 163.7h1M97.7 153.5h1M85.3 127.0h1M77.9 165.1h1" stroke="#000" stroke-width="1" stroke-opacity="0.58" fill="none"/>
<path d="M127.9 127.8h1M130.9 118.7h1M136.0 114.0h1M138.2 106.3h1M133.1 122.5h1M136.5 121.2h1M134.9 119.2h1M128.5 118.3h1M133.7 117.6h1M135.4 118.0h1M127.8 124.7h1M138.6 126.1h1M123.2 129.2h1M126.6 113.2h1M131.5 131.6h1M130.6 132.5h1M132.8 112.1h1M135.9 108.4h1M130.7 111.3h1M132.8 133.9h1M136.5 127.0h1M128.4 140.4h1M127.4 146.7h1M125.7 135.5h1M125.9 130.9h1M134.1 123.3h1M132.6 110.5h1M128.3 110.4h1M130.6 123.6h1M132.3 108.3h1M125.8 118.0h1M128.8 123.7h1M126.6 151.5h1M135.7 111.4h1M126.4 135.7h1M125.8 127.6h1M139.3 117.3h1M123.7 121.6h1M127.0 141.8h1M132.4 121.7h1M131.5 115.3h1M134.8 140.3h1M131.5 111.0h1M136.0 128.9h1M123.2 140.3h1M132.4 123.7h1M134.2 121.9h1M125.5 138.4h1M129.8 115.6h1M137.0 127.8h1M132.6 122.1h1M126.0 138.7h1M137.3 121.9h1M130.4 118.8h1M132.3 114.9h1M127.5 129.6h1M131.9 118.7h1M127.8 142.4h1M134.4 111.6h1M134.7 120.9h1M123.3 133.2h1M139.2 113.0h1M131.8 138.3h1M128.1 115.5h1M132.2 123.1h1M136.0 111.6h1M133.1 122.8h1M132.6 111.3h1M132.1 134.4h1M130.1 126.4h1M132.5 108.9h1M130.5 127.6h1M133.9 115.8h1M127.6 121.1h1M131.6 118.9h1M124.4 147.9h1M124.5 145.0h1M134.9 109.7h1M125.4 112.9h1M126.1 134.9h1M139.8 128.3h1M133.7 112.4h1M135.4 112.6h1M131.9 106.8h1M130.5 122.3h1M150.3 39.8h1M148.0 47.8h1M155.5 44.6h1M148.1 39.0h1M147.0 39.6h1M146.7 41.1h1M147.7 47.1h1M142.6 39.4h1M152.1 39.4h1M146.9 44.4h1M148.3 36.5h1M149.3 44.8h1M141.4 46.2h1M141.3 45.1h1M143.0 42.7h1M148.4 46.8h1M148.3 39.3h1M145.5 42.6h1M147.6 46.1h1M150.4 48.0h1M151.7 42.5h1M148.4 44.8h1M151.9 34.7h1M150.3 39.7h1M150.0 45.7h1M140.5 41.0h1M152.9 32.6h1M149.6 41.6h1M146.2 46.2h1M152.6 41.7h1M154.7 49.1h1M149.5 45.9h1M152.4 50.5h1M152.1 45.1h1M140.6 81.5h1M112.0 74.0h1M129.0 91.7h1M142.0 55.0h1M131.0 88.0h1M126.0 95.0h1M141.0 83.0h1M122.0 93.0h1M100.0 99.5h1M108.0 96.0h1" stroke="#000" stroke-width="1" stroke-opacity="0.42" fill="none"/>
<rect x="67.50" y="16.80" width="145.30" height="158.80" fill="none" stroke="#1a1a1a" stroke-width="1"/>
<line x1="119.30" y1="16.80" x2="119.30" y2="175.60" stroke="#1a1a1a" stroke-width="1"/>
<line x1="67.50" y1="98.50" x2="212.80" y2="98.50" stroke="#1a1a1a" stroke-width="1"/>
<line x1="64.10" y1="32.60" x2="67.50" y2="32.60" stroke="#111" stroke-width="1"/>
<line x1="64.10" y1="67.40" x2="67.50" y2="67.40" stroke="#111" stroke-width="1"/>
<line x1="64.10" y1="103.80" x2="67.50" y2="103.80" stroke="#111" stroke-width="1"/>
<line x1="64.10" y1="142.80" x2="67.50" y2="142.80" stroke="#111" stroke-width="1"/>
<line x1="65.30" y1="131.06" x2="67.50" y2="131.06" stroke="#000" stroke-width="0.8"/>
<line x1="65.30" y1="124.19" x2="67.50" y2="124.19" stroke="#000" stroke-width="0.8"/>
<line x1="65.30" y1="119.32" x2="67.50" y2="119.32" stroke="#000" stroke-width="0.8"/>
<line x1="65.30" y1="115.54" x2="67.50" y2="115.54" stroke="#000" stroke-width="0.8"/>
<line x1="65.30" y1="112.45" x2="67.50" y2="112.45" stroke="#000" stroke-width="0.8"/>
<line x1="65.30" y1="109.84" x2="67.50" y2="109.84" stroke="#000" stroke-width="0.8"/>
<line x1="65.30" y1="107.58" x2="67.50" y2="107.58" stroke="#000" stroke-width="0.8"/>
<line x1="65.30" y1="105.58" x2="67.50" y2="105.58" stroke="#000" stroke-width="0.8"/>
<line x1="65.30" y1="92.84" x2="67.50" y2="92.84" stroke="#000" stroke-width="0.8"/>
<line x1="65.30" y1="86.43" x2="67.50" y2="86.43" stroke="#000" stroke-width="0.8"/>
<line x1="65.30" y1="81.89" x2="67.50" y2="81.89" stroke="#000" stroke-width="0.8"/>
<line x1="65.30" y1="78.36" x2="67.50" y2="78.36" stroke="#000" stroke-width="0.8"/>
<line x1="65.30" y1="75.48" x2="67.50" y2="75.48" stroke="#000" stroke-width="0.8"/>
<line x1="65.30" y1="73.04" x2="67.50" y2="73.04" stroke="#000" stroke-width="0.8"/>
<line x1="65.30" y1="70.93" x2="67.50" y2="70.93" stroke="#000" stroke-width="0.8"/>
<line x1="65.30" y1="69.07" x2="67.50" y2="69.07" stroke="#000" stroke-width="0.8"/>
<line x1="65.30" y1="56.92" x2="67.50" y2="56.92" stroke="#000" stroke-width="0.8"/>
<line x1="65.30" y1="50.80" x2="67.50" y2="50.80" stroke="#000" stroke-width="0.8"/>
<line x1="65.30" y1="46.45" x2="67.50" y2="46.45" stroke="#000" stroke-width="0.8"/>
<line x1="65.30" y1="43.08" x2="67.50" y2="43.08" stroke="#000" stroke-width="0.8"/>
<line x1="65.30" y1="40.32" x2="67.50" y2="40.32" stroke="#000" stroke-width="0.8"/>
<line x1="65.30" y1="37.99" x2="67.50" y2="37.99" stroke="#000" stroke-width="0.8"/>
<line x1="65.30" y1="35.97" x2="67.50" y2="35.97" stroke="#000" stroke-width="0.8"/>
<line x1="65.30" y1="34.19" x2="67.50" y2="34.19" stroke="#000" stroke-width="0.8"/>
<line x1="65.30" y1="22.06" x2="67.50" y2="22.06" stroke="#000" stroke-width="0.8"/>
<line x1="63.50" y1="159.80" x2="67.50" y2="159.80" stroke="#111" stroke-width="1.6"/>
<line x1="65.30" y1="146.50" x2="67.50" y2="146.50" stroke="#000" stroke-width="0.8"/>
<line x1="65.30" y1="150.00" x2="67.50" y2="150.00" stroke="#000" stroke-width="0.8"/>
<line x1="65.30" y1="153.50" x2="67.50" y2="153.50" stroke="#000" stroke-width="0.8"/>
<line x1="65.30" y1="156.80" x2="67.50" y2="156.80" stroke="#000" stroke-width="0.8"/>
<line x1="65.30" y1="163.00" x2="67.50" y2="163.00" stroke="#000" stroke-width="0.8"/>
<line x1="65.30" y1="166.50" x2="67.50" y2="166.50" stroke="#000" stroke-width="0.8"/>
<line x1="65.30" y1="170.00" x2="67.50" y2="170.00" stroke="#000" stroke-width="0.8"/>
<line x1="65.30" y1="173.00" x2="67.50" y2="173.00" stroke="#000" stroke-width="0.8"/>
<line x1="81.70" y1="175.60" x2="81.70" y2="179.60" stroke="#111" stroke-width="1.6"/>
<line x1="97.70" y1="175.60" x2="97.70" y2="179.00" stroke="#111" stroke-width="1"/>
<line x1="132.50" y1="175.60" x2="132.50" y2="179.00" stroke="#111" stroke-width="1"/>
<line x1="166.20" y1="175.60" x2="166.20" y2="179.00" stroke="#111" stroke-width="1"/>
<line x1="199.20" y1="175.60" x2="199.20" y2="179.00" stroke="#111" stroke-width="1"/>
<line x1="108.18" y1="175.60" x2="108.18" y2="177.80" stroke="#000" stroke-width="0.8"/>
<line x1="114.30" y1="175.60" x2="114.30" y2="177.80" stroke="#000" stroke-width="0.8"/>
<line x1="118.65" y1="175.60" x2="118.65" y2="177.80" stroke="#000" stroke-width="0.8"/>
<line x1="122.02" y1="175.60" x2="122.02" y2="177.80" stroke="#000" stroke-width="0.8"/>
<line x1="124.78" y1="175.60" x2="124.78" y2="177.80" stroke="#000" stroke-width="0.8"/>
<line x1="127.11" y1="175.60" x2="127.11" y2="177.80" stroke="#000" stroke-width="0.8"/>
<line x1="129.13" y1="175.60" x2="129.13" y2="177.80" stroke="#000" stroke-width="0.8"/>
<line x1="130.91" y1="175.60" x2="130.91" y2="177.80" stroke="#000" stroke-width="0.8"/>
<line x1="142.64" y1="175.60" x2="142.64" y2="177.80" stroke="#000" stroke-width="0.8"/>
<line x1="148.58" y1="175.60" x2="148.58" y2="177.80" stroke="#000" stroke-width="0.8"/>
<line x1="152.79" y1="175.60" x2="152.79" y2="177.80" stroke="#000" stroke-width="0.8"/>
<line x1="156.06" y1="175.60" x2="156.06" y2="177.80" stroke="#000" stroke-width="0.8"/>
<line x1="158.72" y1="175.60" x2="158.72" y2="177.80" stroke="#000" stroke-width="0.8"/>
<line x1="160.98" y1="175.60" x2="160.98" y2="177.80" stroke="#000" stroke-width="0.8"/>
<line x1="162.93" y1="175.60" x2="162.93" y2="177.80" stroke="#000" stroke-width="0.8"/>
<line x1="164.66" y1="175.60" x2="164.66" y2="177.80" stroke="#000" stroke-width="0.8"/>
<line x1="176.13" y1="175.60" x2="176.13" y2="177.80" stroke="#000" stroke-width="0.8"/>
<line x1="181.95" y1="175.60" x2="181.95" y2="177.80" stroke="#000" stroke-width="0.8"/>
<line x1="186.07" y1="175.60" x2="186.07" y2="177.80" stroke="#000" stroke-width="0.8"/>
<line x1="189.27" y1="175.60" x2="189.27" y2="177.80" stroke="#000" stroke-width="0.8"/>
<line x1="191.88" y1="175.60" x2="191.88" y2="177.80" stroke="#000" stroke-width="0.8"/>
<line x1="194.09" y1="175.60" x2="194.09" y2="177.80" stroke="#000" stroke-width="0.8"/>
<line x1="196.00" y1="175.60" x2="196.00" y2="177.80" stroke="#000" stroke-width="0.8"/>
<line x1="197.69" y1="175.60" x2="197.69" y2="177.80" stroke="#000" stroke-width="0.8"/>
<line x1="209.13" y1="175.60" x2="209.13" y2="177.80" stroke="#000" stroke-width="0.8"/>
<line x1="69.50" y1="175.60" x2="69.50" y2="177.80" stroke="#000" stroke-width="0.8"/>
<line x1="72.50" y1="175.60" x2="72.50" y2="177.80" stroke="#000" stroke-width="0.8"/>
<line x1="75.50" y1="175.60" x2="75.50" y2="177.80" stroke="#000" stroke-width="0.8"/>
<line x1="78.60" y1="175.60" x2="78.60" y2="177.80" stroke="#000" stroke-width="0.8"/>
<line x1="85.00" y1="175.60" x2="85.00" y2="177.80" stroke="#000" stroke-width="0.8"/>
<line x1="88.20" y1="175.60" x2="88.20" y2="177.80" stroke="#000" stroke-width="0.8"/>
<line x1="91.40" y1="175.60" x2="91.40" y2="177.80" stroke="#000" stroke-width="0.8"/>
<line x1="94.60" y1="175.60" x2="94.60" y2="177.80" stroke="#000" stroke-width="0.8"/>
<text class="ls" x="48.90" y="37.9" font-size="8.3" font-weight="bold" fill="#222" stroke="#222" stroke-width="0" textLength="7.3" lengthAdjust="spacingAndGlyphs">10</text>
<text class="ls" x="56.70" y="32.8" font-size="8.3" font-weight="bold" fill="#222" stroke="#222" stroke-width="0" textLength="3.9" lengthAdjust="spacingAndGlyphs">5</text>
<text class="ls" x="49.70" y="72.0" font-size="8.3" font-weight="bold" fill="#222" stroke="#222" stroke-width="0" textLength="7.3" lengthAdjust="spacingAndGlyphs">10</text>
<text class="ls" x="57.50" y="66.9" font-size="8.3" font-weight="bold" fill="#222" stroke="#222" stroke-width="0" textLength="3.9" lengthAdjust="spacingAndGlyphs">4</text>
<text class="ls" x="49.70" y="108.5" font-size="8.3" font-weight="bold" fill="#222" stroke="#222" stroke-width="0" textLength="7.3" lengthAdjust="spacingAndGlyphs">10</text>
<text class="ls" x="57.50" y="103.4" font-size="8.3" font-weight="bold" fill="#222" stroke="#222" stroke-width="0" textLength="3.9" lengthAdjust="spacingAndGlyphs">3</text>
<text class="ls" x="48.70" y="148.2" font-size="8.3" font-weight="bold" fill="#222" stroke="#222" stroke-width="0" textLength="7.3" lengthAdjust="spacingAndGlyphs">10</text>
<text class="ls" x="56.50" y="143.1" font-size="8.3" font-weight="bold" fill="#222" stroke="#222" stroke-width="0" textLength="3.9" lengthAdjust="spacingAndGlyphs">2</text>
<text class="ls" x="52.80" y="164.3" font-size="8.4" font-weight="bold" fill="#222" stroke="#222" stroke-width="0" textLength="3.9" lengthAdjust="spacingAndGlyphs">0</text>
<text class="ls" x="78.60" y="196.0" font-size="8.4" font-weight="bold" fill="#222" stroke="#222" stroke-width="0" textLength="3.9" lengthAdjust="spacingAndGlyphs">0</text>
<text class="ls" x="92.50" y="195.9" font-size="8.3" font-weight="bold" fill="#222" stroke="#222" stroke-width="0" textLength="7.3" lengthAdjust="spacingAndGlyphs">10</text>
<text class="ls" x="100.30" y="190.8" font-size="8.3" font-weight="bold" fill="#222" stroke="#222" stroke-width="0" textLength="3.9" lengthAdjust="spacingAndGlyphs">2</text>
<text class="ls" x="125.30" y="195.9" font-size="8.3" font-weight="bold" fill="#222" stroke="#222" stroke-width="0" textLength="7.3" lengthAdjust="spacingAndGlyphs">10</text>
<text class="ls" x="133.10" y="190.8" font-size="8.3" font-weight="bold" fill="#222" stroke="#222" stroke-width="0" textLength="3.9" lengthAdjust="spacingAndGlyphs">3</text>
<text class="ls" x="157.60" y="195.9" font-size="8.3" font-weight="bold" fill="#222" stroke="#222" stroke-width="0" textLength="7.3" lengthAdjust="spacingAndGlyphs">10</text>
<text class="ls" x="165.40" y="190.8" font-size="8.3" font-weight="bold" fill="#222" stroke="#222" stroke-width="0" textLength="3.9" lengthAdjust="spacingAndGlyphs">4</text>
<text class="ls" x="187.40" y="195.9" font-size="8.3" font-weight="bold" fill="#222" stroke="#222" stroke-width="0" textLength="7.3" lengthAdjust="spacingAndGlyphs">10</text>
<text class="ls" x="195.20" y="190.8" font-size="8.3" font-weight="bold" fill="#222" stroke="#222" stroke-width="0" textLength="3.9" lengthAdjust="spacingAndGlyphs">5</text>
<text class="ls" x="107.4" y="212.7" font-size="11.1" font-weight="bold" text-anchor="start" fill="#000">CD31-FITC</text>
<text class="ls" x="44.0" y="94.5" font-size="11.0" font-weight="bold" text-anchor="middle" fill="#000" transform="rotate(-90 44.0 94.5)">CD34-PE-Cy7</text>
<rect x="67.00" y="100.20" width="27.90" height="20.70" fill="#000" stroke="none" stroke-width="1"/>
<text class="ls" x="68.1" y="113.7" font-size="10.9" font-weight="bold" text-anchor="start" fill="#fff">MNC</text>
<text class="ls" x="176.0" y="35.9" font-size="11.1" font-weight="bold" text-anchor="start" fill="#000">AMCs</text>
<line x1="230.00" y1="96.00" x2="271.00" y2="96.00" stroke="#000" stroke-width="3.4"/>
<polygon points="269.6,87.4 286.4,95.9 269.6,104.4" fill="#000"/>
<text class="ls" x="306.5" y="97.5" font-size="11.0" font-weight="bold" text-anchor="middle" fill="#000" transform="rotate(-90 306.5 97.5)">Counts</text>
<path d="M340.6 112.0C340.7 114.7 340.9 123.0 341.2 128.0C341.5 133.0 341.8 138.6 342.2 142.0C342.6 145.4 343.0 147.0 343.4 148.5C343.8 150.0 344.2 150.7 344.6 150.8C345.0 150.9 345.5 149.9 346.0 149.0C346.5 148.1 346.7 146.9 347.5 145.6C348.3 144.3 349.5 142.5 350.6 141.2C351.7 139.9 353.0 138.2 354.0 137.8C355.0 137.4 355.9 139.1 356.6 138.7C357.3 138.3 357.8 135.7 358.4 135.5C359.0 135.3 359.4 138.4 360.1 137.8C360.8 137.2 361.7 134.7 362.7 131.7C363.7 128.7 365.2 123.9 366.2 119.6C367.2 115.3 368.0 109.1 368.7 105.8C369.4 102.5 369.9 101.2 370.5 99.7C371.1 98.2 371.6 97.5 372.2 96.8C372.8 96.1 373.3 94.9 373.9 95.6C374.5 96.3 375.1 100.8 375.7 101.0C376.3 101.2 376.8 99.7 377.4 97.0C378.0 94.3 378.5 88.8 379.1 85.0C379.7 81.2 380.4 75.2 380.9 74.2C381.4 73.2 381.7 79.1 382.2 79.0C382.7 78.9 383.4 77.8 384.0 73.8C384.6 69.8 385.3 60.8 386.0 54.8C386.7 48.8 387.6 41.8 388.3 37.5C389.0 33.2 389.5 29.9 390.0 29.2C390.5 28.5 390.7 32.4 391.2 33.2C391.7 34.0 392.4 32.4 393.0 34.0C393.6 35.6 394.1 38.4 394.7 42.7C395.3 47.0 395.8 54.1 396.4 60.0C397.0 65.9 397.6 71.7 398.2 78.0C398.8 84.3 399.3 89.6 399.9 98.0C400.5 106.4 401.0 119.8 401.6 128.3C402.2 136.8 402.8 143.9 403.4 149.0C404.0 154.1 404.4 156.3 405.1 158.6C405.8 160.9 406.9 161.9 407.7 162.6C408.5 163.3 409.6 162.9 410.0 163.0" fill="none" stroke="#8a8a8a" stroke-width="1.3"/>
<path d="M340.6 112.0C340.7 114.7 340.9 123.0 341.2 128.0C341.5 133.0 341.8 138.6 342.2 142.0C342.6 145.4 343.0 147.0 343.4 148.5C343.8 150.0 344.2 150.7 344.6 150.8C345.0 150.9 345.5 149.9 346.0 149.0C346.5 148.1 346.7 146.9 347.5 145.6C348.3 144.3 349.5 142.5 350.6 141.2C351.7 139.9 353.0 138.2 354.0 137.8C355.0 137.4 355.9 139.1 356.6 138.7C357.3 138.3 357.8 135.7 358.4 135.5C359.0 135.3 359.4 138.4 360.1 137.8C360.8 137.2 361.7 134.7 362.7 131.7C363.7 128.7 365.2 123.9 366.2 119.6C367.2 115.3 368.0 109.1 368.7 105.8C369.4 102.5 369.9 101.2 370.5 99.7C371.1 98.2 371.6 97.5 372.2 96.8C372.8 96.1 373.3 94.9 373.9 95.6C374.5 96.3 375.1 100.8 375.7 101.0C376.3 101.2 376.8 99.7 377.4 97.0C378.0 94.3 378.5 88.8 379.1 85.0C379.7 81.2 380.4 75.2 380.9 74.2C381.4 73.2 381.7 79.1 382.2 79.0C382.7 78.9 383.4 77.8 384.0 73.8C384.6 69.8 385.3 60.8 386.0 54.8C386.7 48.8 387.6 41.8 388.3 37.5C389.0 33.2 389.5 29.9 390.0 29.2C390.5 28.5 390.7 32.4 391.2 33.2C391.7 34.0 392.4 32.4 393.0 34.0C393.6 35.6 394.1 38.4 394.7 42.7C395.3 47.0 395.8 54.1 396.4 60.0C397.0 65.9 397.6 71.7 398.2 78.0C398.8 84.3 399.3 89.6 399.9 98.0C400.5 106.4 401.0 119.8 401.6 128.3C402.2 136.8 402.8 143.9 403.4 149.0C404.0 154.1 404.4 156.3 405.1 158.6C405.8 160.9 406.9 161.9 407.7 162.6C408.5 163.3 409.6 162.9 410.0 163.0" fill="none" stroke="#2a2a2a" stroke-width="1.7" stroke-dasharray="2.1 0.9"/>
<path d="M423.5 163.0C423.9 162.2 425.2 159.6 426.0 158.5C426.8 157.4 427.3 156.4 428.0 156.2C428.7 156.0 429.4 157.1 430.0 157.5C430.6 157.9 430.9 158.6 431.6 158.9C432.3 159.2 433.4 160.8 434.3 159.4C435.2 158.1 436.1 157.0 437.0 150.8C437.9 144.6 438.8 130.4 439.7 122.0C440.6 113.6 441.5 105.1 442.4 100.4C443.3 95.8 444.3 95.8 445.1 94.1C445.9 92.4 446.6 90.0 447.4 90.5C448.1 91.0 448.8 92.8 449.6 96.8C450.4 100.8 451.4 108.2 452.3 114.8C453.2 121.4 454.1 129.5 455.0 136.4C455.9 143.3 456.8 151.8 457.7 156.2C458.6 160.5 459.6 161.4 460.4 162.5C461.2 163.6 462.1 162.9 462.5 163.0" fill="none" stroke="#8a8a8a" stroke-width="1.3"/>
<path d="M423.5 163.0C423.9 162.2 425.2 159.6 426.0 158.5C426.8 157.4 427.3 156.4 428.0 156.2C428.7 156.0 429.4 157.1 430.0 157.5C430.6 157.9 430.9 158.6 431.6 158.9C432.3 159.2 433.4 160.8 434.3 159.4C435.2 158.1 436.1 157.0 437.0 150.8C437.9 144.6 438.8 130.4 439.7 122.0C440.6 113.6 441.5 105.1 442.4 100.4C443.3 95.8 444.3 95.8 445.1 94.1C445.9 92.4 446.6 90.0 447.4 90.5C448.1 91.0 448.8 92.8 449.6 96.8C450.4 100.8 451.4 108.2 452.3 114.8C453.2 121.4 454.1 129.5 455.0 136.4C455.9 143.3 456.8 151.8 457.7 156.2C458.6 160.5 459.6 161.4 460.4 162.5C461.2 163.6 462.1 162.9 462.5 163.0" fill="none" stroke="#2a2a2a" stroke-width="1.7" stroke-dasharray="2.1 0.9"/>
<path d="M403.4 163.0C403.9 162.4 405.4 160.5 406.5 159.5C407.6 158.5 409.1 156.9 410.3 156.8C411.6 156.7 412.8 158.0 414.0 159.0C415.2 160.0 416.9 162.3 417.5 163.0" fill="none" stroke="#222" stroke-width="1.1"/>
<path d="M404.5 163.0C405.1 162.6 406.8 161.1 408.0 160.5C409.2 159.9 410.3 159.5 411.5 159.6C412.7 159.7 413.8 160.4 415.0 161.0C416.2 161.6 417.9 162.7 418.5 163.0" fill="none" stroke="#222" stroke-width="1.1"/>
<path d="M417.0 163.0C417.5 162.6 419.0 160.5 420.0 160.5C421.0 160.5 422.5 162.6 423.0 163.0" fill="none" stroke="#222" stroke-width="1.1"/>
<path d="M476.6 163.0C477.0 162.6 478.2 161.1 479.0 160.5C479.8 159.9 480.3 159.4 481.1 159.6C481.9 159.8 483.4 161.4 483.8 161.8" fill="none" stroke="#222" stroke-width="1.1"/>
<line x1="340.40" y1="2.80" x2="340.40" y2="163.10" stroke="#5a5a5a" stroke-width="1.4"/>
<line x1="484.20" y1="2.80" x2="484.20" y2="163.10" stroke="#333" stroke-width="1.6"/>
<line x1="339.70" y1="2.80" x2="484.90" y2="2.80" stroke="#666" stroke-width="1.4"/>
<line x1="339.70" y1="163.10" x2="484.90" y2="163.10" stroke="#111" stroke-width="2"/>
<line x1="354.30" y1="163.10" x2="354.30" y2="167.10" stroke="#222" stroke-width="1.6"/>
<line x1="370.30" y1="163.10" x2="370.30" y2="166.70" stroke="#333" stroke-width="1"/>
<line x1="405.00" y1="163.10" x2="405.00" y2="166.70" stroke="#333" stroke-width="1"/>
<line x1="438.30" y1="163.10" x2="438.30" y2="166.70" stroke="#333" stroke-width="1"/>
<line x1="470.00" y1="163.10" x2="470.00" y2="166.70" stroke="#333" stroke-width="1"/>
<line x1="380.75" y1="163.10" x2="380.75" y2="165.70" stroke="#111" stroke-width="0.85"/>
<line x1="386.86" y1="163.10" x2="386.86" y2="165.70" stroke="#111" stroke-width="0.85"/>
<line x1="391.19" y1="163.10" x2="391.19" y2="165.70" stroke="#111" stroke-width="0.85"/>
<line x1="394.55" y1="163.10" x2="394.55" y2="165.70" stroke="#111" stroke-width="0.85"/>
<line x1="397.30" y1="163.10" x2="397.30" y2="165.70" stroke="#111" stroke-width="0.85"/>
<line x1="399.62" y1="163.10" x2="399.62" y2="165.70" stroke="#111" stroke-width="0.85"/>
<line x1="401.64" y1="163.10" x2="401.64" y2="165.70" stroke="#111" stroke-width="0.85"/>
<line x1="403.41" y1="163.10" x2="403.41" y2="165.70" stroke="#111" stroke-width="0.85"/>
<line x1="415.02" y1="163.10" x2="415.02" y2="165.70" stroke="#111" stroke-width="0.85"/>
<line x1="420.89" y1="163.10" x2="420.89" y2="165.70" stroke="#111" stroke-width="0.85"/>
<line x1="425.05" y1="163.10" x2="425.05" y2="165.70" stroke="#111" stroke-width="0.85"/>
<line x1="428.28" y1="163.10" x2="428.28" y2="165.70" stroke="#111" stroke-width="0.85"/>
<line x1="430.91" y1="163.10" x2="430.91" y2="165.70" stroke="#111" stroke-width="0.85"/>
<line x1="433.14" y1="163.10" x2="433.14" y2="165.70" stroke="#111" stroke-width="0.85"/>
<line x1="435.07" y1="163.10" x2="435.07" y2="165.70" stroke="#111" stroke-width="0.85"/>
<line x1="436.78" y1="163.10" x2="436.78" y2="165.70" stroke="#111" stroke-width="0.85"/>
<line x1="447.84" y1="163.10" x2="447.84" y2="165.70" stroke="#111" stroke-width="0.85"/>
<line x1="453.42" y1="163.10" x2="453.42" y2="165.70" stroke="#111" stroke-width="0.85"/>
<line x1="457.39" y1="163.10" x2="457.39" y2="165.70" stroke="#111" stroke-width="0.85"/>
<line x1="460.46" y1="163.10" x2="460.46" y2="165.70" stroke="#111" stroke-width="0.85"/>
<line x1="462.97" y1="163.10" x2="462.97" y2="165.70" stroke="#111" stroke-width="0.85"/>
<line x1="465.09" y1="163.10" x2="465.09" y2="165.70" stroke="#111" stroke-width="0.85"/>
<line x1="466.93" y1="163.10" x2="466.93" y2="165.70" stroke="#111" stroke-width="0.85"/>
<line x1="468.55" y1="163.10" x2="468.55" y2="165.70" stroke="#111" stroke-width="0.85"/>
<line x1="479.63" y1="163.10" x2="479.63" y2="165.70" stroke="#111" stroke-width="0.85"/>
<line x1="342.50" y1="163.10" x2="342.50" y2="165.70" stroke="#111" stroke-width="0.85"/>
<line x1="345.50" y1="163.10" x2="345.50" y2="165.70" stroke="#111" stroke-width="0.85"/>
<line x1="348.50" y1="163.10" x2="348.50" y2="165.70" stroke="#111" stroke-width="0.85"/>
<line x1="351.30" y1="163.10" x2="351.30" y2="165.70" stroke="#111" stroke-width="0.85"/>
<line x1="357.50" y1="163.10" x2="357.50" y2="165.70" stroke="#111" stroke-width="0.85"/>
<line x1="360.70" y1="163.10" x2="360.70" y2="165.70" stroke="#111" stroke-width="0.85"/>
<line x1="363.90" y1="163.10" x2="363.90" y2="165.70" stroke="#111" stroke-width="0.85"/>
<line x1="367.10" y1="163.10" x2="367.10" y2="165.70" stroke="#111" stroke-width="0.85"/>
<text class="ls" x="351.30" y="184.6" font-size="8.2" font-weight="bold" fill="#1a1a1a" stroke="#1a1a1a" stroke-width="0.25" textLength="3.4" lengthAdjust="spacingAndGlyphs">0</text>
<text class="ls" x="365.40" y="184.6" font-size="8.2" font-weight="bold" fill="#1a1a1a" stroke="#1a1a1a" stroke-width="0.25" textLength="6.2" lengthAdjust="spacingAndGlyphs">10</text>
<text class="ls" x="372.10" y="179.7" font-size="8.2" font-weight="bold" fill="#1a1a1a" stroke="#1a1a1a" stroke-width="0.25" textLength="3.7" lengthAdjust="spacingAndGlyphs">2</text>
<text class="ls" x="398.90" y="184.6" font-size="8.2" font-weight="bold" fill="#1a1a1a" stroke="#1a1a1a" stroke-width="0.25" textLength="6.2" lengthAdjust="spacingAndGlyphs">10</text>
<text class="ls" x="405.60" y="179.7" font-size="8.2" font-weight="bold" fill="#1a1a1a" stroke="#1a1a1a" stroke-width="0.25" textLength="3.7" lengthAdjust="spacingAndGlyphs">3</text>
<text class="ls" x="429.70" y="184.70000000000002" font-size="8.2" font-weight="bold" fill="#1a1a1a" stroke="#1a1a1a" stroke-width="0.25" textLength="6.2" lengthAdjust="spacingAndGlyphs">10</text>
<text class="ls" x="436.40" y="179.8" font-size="8.2" font-weight="bold" fill="#1a1a1a" stroke="#1a1a1a" stroke-width="0.25" textLength="3.7" lengthAdjust="spacingAndGlyphs">4</text>
<text class="ls" x="459.10" y="184.70000000000002" font-size="8.2" font-weight="bold" fill="#1a1a1a" stroke="#1a1a1a" stroke-width="0.25" textLength="6.2" lengthAdjust="spacingAndGlyphs">10</text>
<text class="ls" x="465.80" y="179.8" font-size="8.2" font-weight="bold" fill="#1a1a1a" stroke="#1a1a1a" stroke-width="0.25" textLength="3.7" lengthAdjust="spacingAndGlyphs">5</text>
<text class="ls" x="404.2" y="28.9" font-size="10.9" font-weight="bold" text-anchor="start" fill="#000">MNC</text>
<text class="ls" x="444.7" y="70.0" font-size="11.2" font-weight="bold" text-anchor="start" fill="#000">AMCs</text>
<text class="ls" x="377.6" y="204.1" font-size="11.1" font-weight="bold" text-anchor="start" fill="#000">CXCR7 - APC</text>
<text class="ls" x="0" y="246.2" font-size="16.6" font-weight="bold" text-anchor="start" fill="#000">B</text>
<line x1="59.30" y1="254.50" x2="59.30" y2="421.40" stroke="#858585" stroke-width="1"/>
<line x1="55.80" y1="420.90" x2="215.80" y2="420.90" stroke="#858585" stroke-width="1"/>
<line x1="55.50" y1="420.90" x2="59.30" y2="420.90" stroke="#858585" stroke-width="1"/>
<text class="dj" x="49.2" y="424.0" font-size="8" font-weight="bold" text-anchor="end" fill="#000">0</text>
<line x1="55.50" y1="404.27" x2="59.30" y2="404.27" stroke="#858585" stroke-width="1"/>
<text class="dj" x="49.2" y="407.37" font-size="8" font-weight="bold" text-anchor="end" fill="#000">0.1</text>
<line x1="55.50" y1="387.64" x2="59.30" y2="387.64" stroke="#858585" stroke-width="1"/>
<text class="dj" x="49.2" y="390.74" font-size="8" font-weight="bold" text-anchor="end" fill="#000">0.2</text>
<line x1="55.50" y1="371.01" x2="59.30" y2="371.01" stroke="#858585" stroke-width="1"/>
<text class="dj" x="49.2" y="374.11" font-size="8" font-weight="bold" text-anchor="end" fill="#000">0.3</text>
<line x1="55.50" y1="354.38" x2="59.30" y2="354.38" stroke="#858585" stroke-width="1"/>
<text class="dj" x="49.2" y="357.48" font-size="8" font-weight="bold" text-anchor="end" fill="#000">0.4</text>
<line x1="55.50" y1="337.75" x2="59.30" y2="337.75" stroke="#858585" stroke-width="1"/>
<text class="dj" x="49.2" y="340.85" font-size="8" font-weight="bold" text-anchor="end" fill="#000">0.5</text>
<line x1="55.50" y1="321.12" x2="59.30" y2="321.12" stroke="#858585" stroke-width="1"/>
<text class="dj" x="49.2" y="324.22" font-size="8" font-weight="bold" text-anchor="end" fill="#000">0.6</text>
<line x1="55.50" y1="304.49" x2="59.30" y2="304.49" stroke="#858585" stroke-width="1"/>
<text class="dj" x="49.2" y="307.59" font-size="8" font-weight="bold" text-anchor="end" fill="#000">0.7</text>
<line x1="55.50" y1="287.86" x2="59.30" y2="287.86" stroke="#858585" stroke-width="1"/>
<text class="dj" x="49.2" y="290.96" font-size="8" font-weight="bold" text-anchor="end" fill="#000">0.8</text>
<line x1="55.50" y1="271.23" x2="59.30" y2="271.23" stroke="#858585" stroke-width="1"/>
<text class="dj" x="49.2" y="274.33" font-size="8" font-weight="bold" text-anchor="end" fill="#000">0.9</text>
<line x1="55.50" y1="254.60" x2="59.30" y2="254.60" stroke="#858585" stroke-width="1"/>
<text class="dj" x="49.2" y="257.7" font-size="8" font-weight="bold" text-anchor="end" fill="#000">1</text>
<line x1="137.50" y1="420.90" x2="137.50" y2="423.90" stroke="#858585" stroke-width="1"/>
<line x1="215.60" y1="420.90" x2="215.60" y2="423.90" stroke="#858585" stroke-width="1"/>
<line x1="87.90" y1="375.00" x2="87.90" y2="368.30" stroke="#000" stroke-width="1.2"/>
<line x1="85.20" y1="368.30" x2="90.60" y2="368.30" stroke="#000" stroke-width="1.2"/>
<line x1="109.70" y1="410.50" x2="109.70" y2="407.60" stroke="#000" stroke-width="1.2"/>
<line x1="107.00" y1="407.60" x2="112.40" y2="407.60" stroke="#000" stroke-width="1.2"/>
<line x1="166.00" y1="275.50" x2="166.00" y2="264.80" stroke="#000" stroke-width="1.4"/>
<line x1="163.10" y1="264.80" x2="168.90" y2="264.80" stroke="#000" stroke-width="1.4"/>
<line x1="188.30" y1="357.00" x2="188.30" y2="336.70" stroke="#000" stroke-width="1.2"/>
<line x1="185.70" y1="336.70" x2="190.90" y2="336.70" stroke="#000" stroke-width="1.2"/>
<rect x="76.00" y="374.70" width="22.50" height="46.20" fill="#000" stroke="none" stroke-width="1"/>
<rect x="99.00" y="410.70" width="21.50" height="10.70" fill="#fff" stroke="#000" stroke-width="1.1"/>
<rect x="153.60" y="275.20" width="23.70" height="145.70" fill="#000" stroke="none" stroke-width="1"/>
<rect x="177.80" y="357.40" width="21.50" height="64.00" fill="#fff" stroke="#000" stroke-width="1.1"/>
<line x1="114.00" y1="244.10" x2="194.40" y2="244.10" stroke="#000" stroke-width="1.4"/>
<text class="ls" x="136.6" y="243.0" font-size="10.8" font-weight="normal" text-anchor="start" fill="#000">P=0.01</text>
<line x1="87.20" y1="258.90" x2="167.20" y2="258.90" stroke="#000" stroke-width="1.4"/>
<text class="ls" x="108.6" y="257.6" font-size="10.8" font-weight="normal" text-anchor="start" fill="#000">P&lt;0.001</text>
<rect x="200.60" y="272.80" width="7.30" height="6.20" fill="#000" stroke="none" stroke-width="1"/>
<text class="dj" x="210.6" y="279.1" font-size="8.2" font-weight="bold" text-anchor="start" fill="#000">BM</text>
<rect x="201.10" y="292.10" width="6.30" height="4.70" fill="#fff" stroke="#000" stroke-width="1.1"/>
<text class="dj" x="210.6" y="297.3" font-size="8.2" font-weight="bold" text-anchor="start" fill="#000">PB</text>
<text class="dj" x="98.6" y="437.9" font-size="8.1" font-weight="bold" text-anchor="middle" fill="#000" textLength="34.5" lengthAdjust="spacingAndGlyphs">Normal</text>
<text class="dj" x="178.4" y="438.3" font-size="8.1" font-weight="bold" text-anchor="middle" fill="#000" textLength="18" lengthAdjust="spacingAndGlyphs">MM</text>
<text class="ls" x="10.7" y="337.3" font-size="11.05" font-weight="bold" text-anchor="middle" fill="#000" transform="rotate(-90 10.7 337.3)">Presence &#160;of AMCs</text>
<text class="ls" x="24.4" y="336.8" font-size="11.2" font-weight="bold" text-anchor="middle" fill="#000" transform="rotate(-90 24.4 336.8)">(% of MNCs)</text>
<text class="ls" x="288.2" y="247" font-size="17" font-weight="bold" text-anchor="start" fill="#000">C</text>
<line x1="345.10" y1="251.80" x2="345.10" y2="418.50" stroke="#858585" stroke-width="1"/>
<line x1="341.60" y1="418.00" x2="510.80" y2="418.00" stroke="#858585" stroke-width="1"/>
<line x1="341.30" y1="418.00" x2="345.10" y2="418.00" stroke="#858585" stroke-width="1"/>
<text class="dj" x="334.8" y="421.1" font-size="8" font-weight="bold" text-anchor="end" fill="#000">0</text>
<line x1="341.30" y1="390.30" x2="345.10" y2="390.30" stroke="#858585" stroke-width="1"/>
<text class="dj" x="334.8" y="393.40000000000003" font-size="8" font-weight="bold" text-anchor="end" fill="#000">1</text>
<line x1="341.30" y1="362.60" x2="345.10" y2="362.60" stroke="#858585" stroke-width="1"/>
<text class="dj" x="334.8" y="365.70000000000005" font-size="8" font-weight="bold" text-anchor="end" fill="#000">2</text>
<line x1="341.30" y1="334.90" x2="345.10" y2="334.90" stroke="#858585" stroke-width="1"/>
<text class="dj" x="334.8" y="338.0" font-size="8" font-weight="bold" text-anchor="end" fill="#000">3</text>
<line x1="341.30" y1="307.20" x2="345.10" y2="307.20" stroke="#858585" stroke-width="1"/>
<text class="dj" x="334.8" y="310.3" font-size="8" font-weight="bold" text-anchor="end" fill="#000">4</text>
<line x1="341.30" y1="279.50" x2="345.10" y2="279.50" stroke="#858585" stroke-width="1"/>
<text class="dj" x="334.8" y="282.6" font-size="8" font-weight="bold" text-anchor="end" fill="#000">5</text>
<line x1="341.30" y1="251.80" x2="345.10" y2="251.80" stroke="#858585" stroke-width="1"/>
<text class="dj" x="334.8" y="254.9" font-size="8" font-weight="bold" text-anchor="end" fill="#000">6</text>
<line x1="428.00" y1="418.00" x2="428.00" y2="421.00" stroke="#858585" stroke-width="1"/>
<line x1="510.80" y1="418.00" x2="510.80" y2="421.00" stroke="#858585" stroke-width="1"/>
<line x1="457.70" y1="281.50" x2="457.70" y2="279.90" stroke="#000" stroke-width="1.1"/>
<line x1="455.60" y1="279.90" x2="459.80" y2="279.90" stroke="#000" stroke-width="1.1"/>
<line x1="481.60" y1="388.00" x2="481.60" y2="384.40" stroke="#000" stroke-width="1.2"/>
<line x1="478.90" y1="384.40" x2="484.30" y2="384.40" stroke="#000" stroke-width="1.2"/>
<rect x="362.50" y="400.70" width="24.20" height="17.30" fill="#000" stroke="none" stroke-width="1"/>
<rect x="387.20" y="414.20" width="22.80" height="4.30" fill="#fff" stroke="#000" stroke-width="1.1"/>
<rect x="445.30" y="281.20" width="24.70" height="136.80" fill="#000" stroke="none" stroke-width="1"/>
<rect x="470.50" y="387.80" width="22.70" height="30.70" fill="#fff" stroke="#000" stroke-width="1.1"/>
<line x1="396.30" y1="259.00" x2="477.00" y2="259.00" stroke="#000" stroke-width="1.4"/>
<text class="ls" x="418.6" y="257.2" font-size="10.8" font-weight="normal" text-anchor="start" fill="#000">P&lt;0.01</text>
<line x1="369.20" y1="273.90" x2="449.90" y2="273.90" stroke="#000" stroke-width="1.4"/>
<text class="ls" x="391.3" y="272" font-size="10.8" font-weight="normal" text-anchor="start" fill="#000">P&lt;0.01</text>
<rect x="494.00" y="273.00" width="7.80" height="6.00" fill="#000" stroke="none" stroke-width="1"/>
<text class="dj" x="504.3" y="279.1" font-size="8.2" font-weight="bold" text-anchor="start" fill="#000">BM</text>
<rect x="494.50" y="292.40" width="6.80" height="4.40" fill="#fff" stroke="#000" stroke-width="1.1"/>
<text class="dj" x="504.3" y="297.2" font-size="8.2" font-weight="bold" text-anchor="start" fill="#000">PB</text>
<text class="dj" x="387.1" y="435" font-size="8.1" font-weight="bold" text-anchor="middle" fill="#000" textLength="34.5" lengthAdjust="spacingAndGlyphs">Normal</text>
<text class="dj" x="469.7" y="434.6" font-size="8.1" font-weight="bold" text-anchor="middle" fill="#000" textLength="18.2" lengthAdjust="spacingAndGlyphs">MM</text>
<text class="ls" x="306.6" y="337.2" font-size="11.05" font-weight="bold" text-anchor="middle" fill="#000" transform="rotate(-90 306.6 337.2)">Presence of AMCs</text>
<text class="ls" x="320.2" y="336.2" font-size="11.2" font-weight="bold" text-anchor="middle" fill="#000" transform="rotate(-90 320.2 336.2)">(% of MNCs)</text>
<text class="ls" x="0" y="472.8" font-size="16.8" font-weight="bold" text-anchor="start" fill="#000">D</text>
<line x1="57.60" y1="655.40" x2="61.40" y2="655.40" stroke="#858585" stroke-width="1"/>
<text class="dj" x="52.3" y="658.3" font-size="7.6" font-weight="bold" text-anchor="end" fill="#000">0</text>
<line x1="57.60" y1="638.82" x2="61.40" y2="638.82" stroke="#858585" stroke-width="1"/>
<text class="dj" x="52.3" y="641.7199999999999" font-size="7.6" font-weight="bold" text-anchor="end" fill="#000">1</text>
<line x1="57.60" y1="622.24" x2="61.40" y2="622.24" stroke="#858585" stroke-width="1"/>
<text class="dj" x="52.3" y="625.14" font-size="7.6" font-weight="bold" text-anchor="end" fill="#000">2</text>
<line x1="57.60" y1="605.66" x2="61.40" y2="605.66" stroke="#858585" stroke-width="1"/>
<text class="dj" x="52.3" y="608.56" font-size="7.6" font-weight="bold" text-anchor="end" fill="#000">3</text>
<line x1="57.60" y1="589.08" x2="61.40" y2="589.08" stroke="#858585" stroke-width="1"/>
<text class="dj" x="52.3" y="591.9799999999999" font-size="7.6" font-weight="bold" text-anchor="end" fill="#000">4</text>
<line x1="57.60" y1="572.50" x2="61.40" y2="572.50" stroke="#858585" stroke-width="1"/>
<text class="dj" x="52.3" y="575.4" font-size="7.6" font-weight="bold" text-anchor="end" fill="#000">5</text>
<line x1="57.60" y1="555.92" x2="61.40" y2="555.92" stroke="#858585" stroke-width="1"/>
<text class="dj" x="52.3" y="558.8199999999999" font-size="7.6" font-weight="bold" text-anchor="end" fill="#000">6</text>
<line x1="57.60" y1="539.34" x2="61.40" y2="539.34" stroke="#858585" stroke-width="1"/>
<text class="dj" x="52.3" y="542.24" font-size="7.6" font-weight="bold" text-anchor="end" fill="#000">7</text>
<line x1="57.60" y1="522.76" x2="61.40" y2="522.76" stroke="#858585" stroke-width="1"/>
<text class="dj" x="52.3" y="525.66" font-size="7.6" font-weight="bold" text-anchor="end" fill="#000">8</text>
<line x1="57.60" y1="506.18" x2="61.40" y2="506.18" stroke="#858585" stroke-width="1"/>
<text class="dj" x="52.3" y="509.08" font-size="7.6" font-weight="bold" text-anchor="end" fill="#000">9</text>
<line x1="57.60" y1="489.60" x2="61.40" y2="489.60" stroke="#858585" stroke-width="1"/>
<text class="dj" x="52.3" y="492.5" font-size="7.6" font-weight="bold" text-anchor="end" fill="#000" textLength="9.6" lengthAdjust="spacingAndGlyphs">10</text>
<line x1="128.60" y1="655.40" x2="128.60" y2="675.30" stroke="#858585" stroke-width="1"/>
<line x1="195.00" y1="655.40" x2="195.00" y2="695.00" stroke="#858585" stroke-width="1"/>
<line x1="261.60" y1="655.40" x2="261.60" y2="675.30" stroke="#858585" stroke-width="1"/>
<line x1="329.20" y1="655.40" x2="329.20" y2="695.00" stroke="#858585" stroke-width="1"/>
<line x1="85.60" y1="638.50" x2="85.60" y2="637.60" stroke="#000" stroke-width="1.1"/>
<line x1="83.30" y1="637.60" x2="87.90" y2="637.60" stroke="#000" stroke-width="1.1"/>
<line x1="104.30" y1="639.20" x2="104.30" y2="638.40" stroke="#000" stroke-width="1.1"/>
<line x1="102.10" y1="638.40" x2="106.50" y2="638.40" stroke="#000" stroke-width="1.1"/>
<rect x="76.30" y="639.00" width="18.20" height="16.90" fill="#fff" stroke="#000" stroke-width="1.1"/>
<rect x="95.00" y="639.20" width="19.00" height="16.20" fill="#000" stroke="none" stroke-width="1"/>
<line x1="152.55" y1="519.40" x2="152.55" y2="498.80" stroke="#000" stroke-width="1.1"/>
<line x1="150.25" y1="498.80" x2="154.85" y2="498.80" stroke="#000" stroke-width="1.1"/>
<line x1="171.45" y1="541.70" x2="171.45" y2="520.50" stroke="#000" stroke-width="1.1"/>
<line x1="169.25" y1="520.50" x2="173.65" y2="520.50" stroke="#000" stroke-width="1.1"/>
<rect x="142.90" y="519.90" width="18.90" height="136.00" fill="#fff" stroke="#000" stroke-width="1.1"/>
<rect x="162.30" y="541.70" width="18.70" height="113.70" fill="#000" stroke="none" stroke-width="1"/>
<line x1="218.95" y1="638.80" x2="218.95" y2="636.30" stroke="#000" stroke-width="1.1"/>
<line x1="216.65" y1="636.30" x2="221.25" y2="636.30" stroke="#000" stroke-width="1.1"/>
<line x1="237.45" y1="636.70" x2="237.45" y2="635.50" stroke="#000" stroke-width="1.1"/>
<line x1="235.25" y1="635.50" x2="239.65" y2="635.50" stroke="#000" stroke-width="1.1"/>
<rect x="209.70" y="639.30" width="18.10" height="16.60" fill="#fff" stroke="#000" stroke-width="1.1"/>
<rect x="228.30" y="636.70" width="18.70" height="18.70" fill="#000" stroke="none" stroke-width="1"/>
<line x1="286.05" y1="585.00" x2="286.05" y2="578.80" stroke="#000" stroke-width="1.1"/>
<line x1="283.75" y1="578.80" x2="288.35" y2="578.80" stroke="#000" stroke-width="1.1"/>
<line x1="304.75" y1="586.50" x2="304.75" y2="582.50" stroke="#000" stroke-width="1.1"/>
<line x1="302.55" y1="582.50" x2="306.95" y2="582.50" stroke="#000" stroke-width="1.1"/>
<rect x="276.80" y="585.50" width="18.10" height="70.40" fill="#fff" stroke="#000" stroke-width="1.1"/>
<rect x="295.40" y="586.50" width="19.10" height="68.90" fill="#000" stroke="none" stroke-width="1"/>
<rect x="70.00" y="654.90" width="250.00" height="2.00" fill="#fff" stroke="none" stroke-width="1"/>
<line x1="61.40" y1="489.60" x2="61.40" y2="695.00" stroke="#858585" stroke-width="1"/>
<line x1="57.90" y1="655.40" x2="329.20" y2="655.40" stroke="#858585" stroke-width="1"/>
<text class="ls" x="87.3" y="673.8" font-size="8.5" font-weight="bold" text-anchor="start" fill="#000">MNC</text>
<text class="ls" x="149.2" y="673.9" font-size="8.7" font-weight="bold" text-anchor="start" fill="#000">AMCs</text>
<text class="ls" x="218.2" y="673.7" font-size="8.5" font-weight="bold" text-anchor="start" fill="#000">MNC</text>
<text class="ls" x="279.7" y="673.7" font-size="8.7" font-weight="bold" text-anchor="start" fill="#000">AMCs</text>
<text class="ls" x="121.9" y="691.8" font-size="8.8" font-weight="bold" text-anchor="start" fill="#000">BM</text>
<text class="ls" x="256.4" y="691.8" font-size="8.8" font-weight="bold" text-anchor="start" fill="#000">PB</text>
<line x1="144.20" y1="472.80" x2="278.60" y2="472.80" stroke="#000" stroke-width="1.4"/>
<text class="ls" x="204.8" y="468" font-size="11.1" font-weight="normal" text-anchor="start" fill="#000">P&lt;0.05</text>
<line x1="143.10" y1="493.80" x2="183.70" y2="493.80" stroke="#000" stroke-width="1.4"/>
<text class="ls" x="155.1" y="489" font-size="11.1" font-weight="normal" text-anchor="start" fill="#000">NS</text>
<line x1="170.10" y1="513.20" x2="315.50" y2="513.20" stroke="#000" stroke-width="1.4"/>
<text class="ls" x="224.7" y="508.4" font-size="11.1" font-weight="normal" text-anchor="start" fill="#000">P&lt;0.05</text>
<line x1="275.40" y1="570.20" x2="315.40" y2="570.20" stroke="#000" stroke-width="1.4"/>
<text class="ls" x="287.2" y="565" font-size="11.1" font-weight="normal" text-anchor="start" fill="#000">NS</text>
<rect x="336.00" y="486.60" width="7.90" height="7.90" fill="#fff" stroke="#000" stroke-width="1.1"/>
<text class="ls" x="357.3" y="492.7" font-size="8.9" font-weight="bold" text-anchor="start" fill="#000">Normal</text>
<rect x="335.40" y="506.00" width="9.00" height="8.80" fill="#000" stroke="none" stroke-width="1"/>
<text class="ls" x="357" y="512.3" font-size="8.7" font-weight="bold" text-anchor="start" fill="#000">MM</text>
<text class="ls" x="9.2" y="574.1" font-size="10.5" font-weight="bold" text-anchor="middle" fill="#000" transform="rotate(-90 9.2 574.1)">Expression of CXCR7</text>
<text class="ls" x="24.4" y="574.9" font-size="10.5" font-weight="bold" text-anchor="middle" fill="#000" transform="rotate(-90 24.4 574.9)">(MFI CXCR7/ MFI Isotype)</text>
</svg>
</body></html>
